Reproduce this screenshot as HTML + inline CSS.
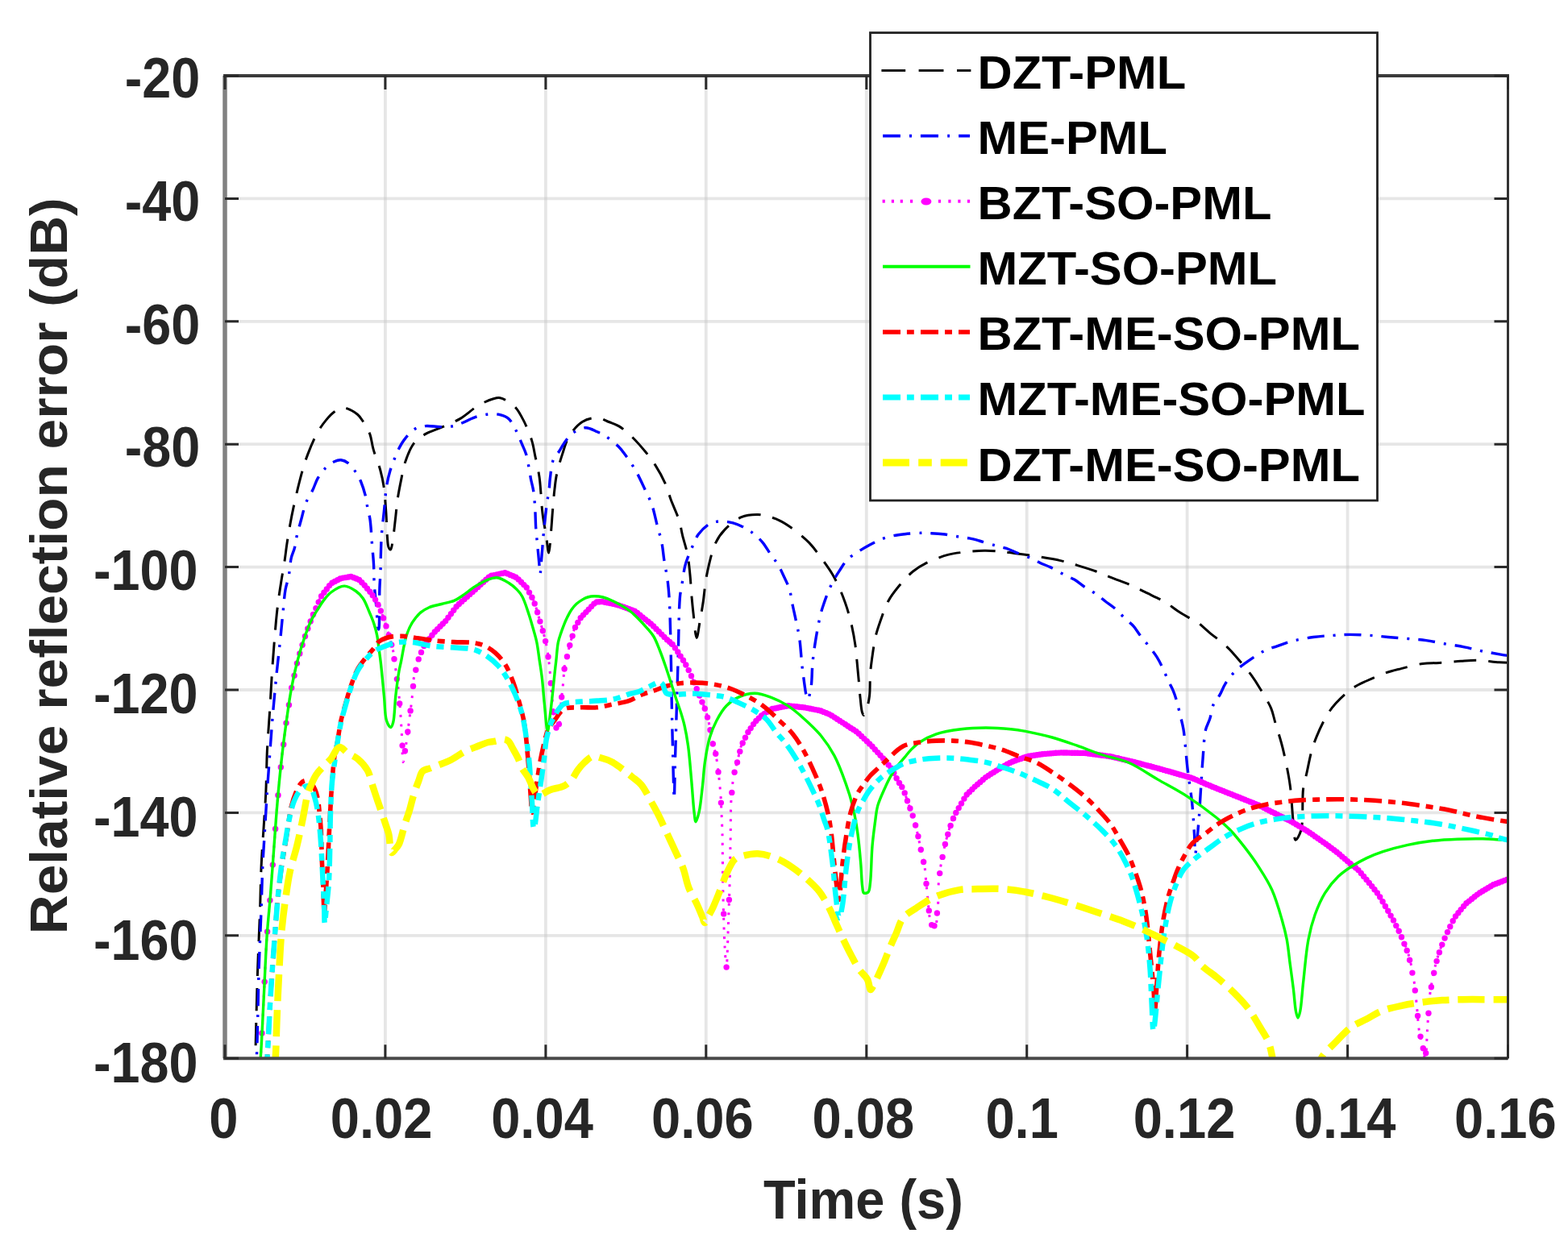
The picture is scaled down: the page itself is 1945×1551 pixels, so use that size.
<!DOCTYPE html>
<html><head><meta charset="utf-8"><title>Relative reflection error vs time</title>
<style>html,body{margin:0;padding:0;background:#fff;}body{width:1945px;height:1551px;overflow:hidden;}svg{display:block;}</style>
</head><body>
<svg width="1945" height="1551" viewBox="0 0 1945 1551">
<rect x="0" y="0" width="1945" height="1551" fill="#fff"/>
<path d="M477.9 94.0V1313.2M676.9 94.0V1313.2M875.8 94.0V1313.2M1074.8 94.0V1313.2M1273.7 94.0V1313.2M1472.6 94.0V1313.2M1671.6 94.0V1313.2" stroke="#c8c8c8" stroke-width="3.8" fill="none" stroke-opacity="0.45"/>
<path d="M279.0 246.4H1870.5M279.0 398.8H1870.5M279.0 551.2H1870.5M279.0 703.6H1870.5M279.0 856.0H1870.5M279.0 1008.4H1870.5M279.0 1160.8H1870.5" stroke="#c8c8c8" stroke-width="3.8" fill="none" stroke-opacity="0.45"/>
<defs><clipPath id="clip"><rect x="279.0" y="94.0" width="1591.5" height="1219.2"/></clipPath></defs>
<g clip-path="url(#clip)" fill="none" stroke-linejoin="round">
<path d="M314.5 1340.0C315.2 1331.0 316.0 1323.5 316.5 1313.0C317.3 1298.3 317.5 1278.2 318.0 1260.0C318.5 1240.6 319.1 1218.0 319.7 1200.0C320.2 1185.3 320.8 1173.0 321.3 1160.0C321.8 1147.7 322.3 1136.9 322.7 1124.0C323.2 1108.9 323.4 1091.2 324.1 1075.0C324.8 1059.2 326.0 1043.5 327.0 1028.0C327.9 1012.8 329.1 998.5 329.8 983.0C330.6 966.3 330.6 947.9 331.4 931.0C332.2 914.9 333.5 900.1 334.5 884.0C335.6 867.1 336.5 848.3 337.6 832.0C338.6 817.5 339.6 803.7 340.7 791.0C341.6 779.9 342.5 769.2 343.5 760.0C344.3 752.6 345.1 746.6 346.0 740.0C346.9 733.6 347.8 727.7 348.9 720.9C350.1 713.2 351.8 704.3 353.0 696.2C354.2 688.5 354.9 681.3 356.1 673.6C357.3 665.5 358.8 656.7 360.2 648.9C361.5 641.7 362.8 635.4 364.3 628.4C365.9 621.0 367.6 613.3 369.5 605.7C371.4 597.9 373.5 589.5 375.7 582.1C377.6 575.5 379.3 570.2 381.8 563.6C384.8 555.7 389.0 545.4 393.1 537.9C396.6 531.6 400.5 526.1 404.4 521.4C407.7 517.4 410.9 513.7 414.7 511.1C418.2 508.7 421.8 506.0 426.0 506.0C431.2 506.0 439.2 510.8 443.5 514.2C446.8 516.9 448.4 519.9 450.7 523.5C453.5 527.9 456.8 533.4 458.9 538.9C461.0 544.7 461.2 550.8 463.1 557.4C465.3 565.4 469.6 575.3 471.8 583.5C473.7 590.5 474.9 595.9 476.0 603.4C477.4 612.9 478.2 625.5 478.9 636.0C479.6 645.8 479.6 656.5 480.3 664.4C480.8 670.1 480.7 676.1 482.0 679.0C482.6 680.5 483.8 682.2 484.5 682.0C485.9 681.7 486.5 674.0 487.4 668.7C488.7 661.1 489.8 649.2 490.8 640.7C491.6 633.6 491.9 628.3 492.9 621.2C494.1 612.7 496.3 601.7 498.0 593.4C499.4 586.6 499.9 581.4 502.1 574.9C504.7 567.1 508.4 556.6 513.4 550.2C517.7 544.8 523.5 541.0 528.9 537.9C533.8 535.0 538.5 534.2 544.3 531.7C552.0 528.4 562.7 524.3 571.0 519.4C579.1 514.6 586.3 507.2 593.7 502.9C600.0 499.3 607.2 496.1 612.2 494.7C615.4 493.8 617.3 493.1 620.4 493.7C625.3 494.7 633.2 499.5 637.9 503.9C642.4 508.1 645.0 513.4 648.2 519.4C652.3 526.9 656.9 537.8 659.5 546.1C661.7 552.9 662.3 558.4 663.7 565.2C665.4 573.1 667.7 582.8 668.9 590.9C670.0 598.1 670.3 604.2 670.9 611.5C671.6 619.6 671.9 628.6 673.0 637.3C674.1 646.4 676.1 656.4 677.5 665.0C678.7 672.5 679.7 686.0 680.7 686.0C681.8 686.0 682.7 668.6 683.5 660.0C684.3 651.6 684.7 643.5 685.4 635.0C686.1 626.0 686.9 615.7 687.9 607.4C688.7 600.6 689.1 595.5 690.5 588.9C692.2 581.0 695.0 571.2 697.7 563.1C700.1 555.7 701.8 548.5 705.7 542.0C709.8 535.2 715.9 527.4 722.2 523.5C727.7 520.0 735.0 518.1 740.7 518.3C745.8 518.5 750.5 521.7 755.1 523.5C759.4 525.2 763.2 526.1 767.4 528.6C772.5 531.6 777.7 536.1 782.9 541.0C789.0 546.8 796.1 555.0 801.4 561.5C805.8 566.9 809.0 571.0 812.7 576.9C817.2 584.0 822.6 593.8 826.0 601.6C828.8 608.1 829.8 613.5 832.2 620.1C835.1 628.0 840.0 637.8 842.5 645.8C844.5 652.4 845.0 657.8 846.6 664.3C848.4 671.7 851.3 680.0 852.8 688.0C854.4 696.1 855.1 704.3 855.9 712.7C856.8 721.4 857.2 731.0 857.9 739.4C858.6 746.9 859.1 752.9 860.0 760.6C861.1 769.9 862.6 791.4 864.1 791.4C865.4 791.4 866.9 778.0 868.2 770.8C869.6 763.0 871.1 754.5 872.3 746.2C873.5 737.8 874.1 728.9 875.4 720.9C876.6 713.7 877.7 707.6 879.5 700.3C881.6 691.9 884.0 681.2 887.7 673.6C890.8 667.2 894.2 662.1 899.1 657.1C904.6 651.4 912.4 644.7 919.6 641.7C926.1 639.0 934.2 638.5 940.2 638.6C944.8 638.6 948.3 639.6 952.5 640.7C957.2 641.9 962.1 643.5 966.9 645.8C972.4 648.4 977.8 652.0 983.4 656.1C990.0 661.0 998.1 667.7 1003.9 673.6C1008.8 678.7 1012.0 683.2 1016.3 689.0C1021.5 696.0 1028.3 705.4 1032.7 712.7C1036.2 718.5 1038.7 724.2 1041.0 729.1C1042.8 733.1 1044.0 736.1 1045.5 740.0C1047.2 744.4 1049.0 749.3 1050.6 754.4C1052.4 760.2 1054.2 766.1 1055.8 773.0C1057.7 781.3 1059.8 792.4 1061.0 800.9C1062.0 808.0 1062.3 813.4 1063.0 820.5C1063.8 829.0 1064.8 840.1 1065.6 848.4C1066.2 855.2 1066.5 860.9 1067.2 866.9C1067.8 872.7 1068.3 880.5 1069.5 884.0C1070.1 885.7 1070.8 887.5 1071.5 887.5C1072.5 887.5 1074.0 883.0 1075.0 880.0C1076.5 875.7 1077.7 870.0 1078.5 863.8C1079.5 855.8 1078.9 844.3 1079.5 836.0C1080.0 829.2 1080.7 824.2 1081.6 817.4C1082.8 809.0 1084.2 797.8 1086.2 789.5C1087.8 782.6 1089.6 777.6 1091.9 771.0C1094.7 763.1 1098.1 752.7 1102.2 745.2C1105.7 738.8 1109.4 734.1 1114.0 728.5C1119.3 722.1 1126.2 714.2 1132.5 709.0C1137.9 704.6 1142.6 701.9 1148.9 698.7C1156.6 694.9 1167.5 690.6 1175.7 688.4C1182.3 686.6 1187.4 686.1 1194.2 685.3C1202.3 684.3 1212.6 683.4 1220.9 683.3C1228.2 683.2 1235.0 683.7 1241.5 684.3C1247.3 684.8 1251.7 685.6 1257.9 686.4C1266.2 687.5 1277.1 689.0 1286.7 690.5C1296.3 692.0 1307.0 693.7 1315.5 695.6C1322.4 697.2 1327.3 698.8 1334.0 700.8C1341.9 703.2 1352.0 706.2 1359.7 709.0C1366.1 711.3 1370.7 713.6 1377.2 716.2C1385.1 719.4 1396.1 723.1 1403.9 726.5C1410.1 729.2 1414.3 731.7 1420.4 734.7C1427.8 738.4 1437.8 742.7 1445.1 747.0C1451.3 750.7 1455.9 754.8 1461.5 758.4C1467.2 762.1 1474.6 766.4 1479.0 768.8C1481.6 770.2 1482.8 770.4 1485.2 772.0C1489.1 774.6 1494.2 779.8 1499.6 784.3C1506.3 789.9 1516.0 796.9 1522.2 802.8C1527.1 807.4 1530.1 811.1 1534.5 816.2C1540.1 822.7 1548.0 832.0 1553.0 838.8C1556.8 844.0 1559.0 847.6 1562.3 853.2C1566.7 860.5 1573.4 871.0 1576.7 878.9C1579.3 885.1 1579.9 890.0 1581.8 896.4C1584.1 904.1 1587.3 914.0 1589.5 922.0C1591.4 928.9 1592.6 934.2 1594.2 941.6C1596.2 951.2 1598.7 962.9 1600.3 975.0C1602.2 989.3 1603.0 1009.5 1604.4 1021.9C1605.3 1030.1 1605.2 1041.8 1607.1 1042.2C1608.7 1042.5 1612.2 1035.7 1613.9 1030.0C1617.1 1019.0 1614.8 991.5 1616.6 978.5C1617.7 970.4 1619.3 966.1 1620.9 959.1C1622.8 950.7 1624.8 939.5 1627.1 931.4C1629.0 924.8 1630.6 920.2 1633.2 913.9C1636.4 906.1 1641.2 895.5 1645.6 888.2C1649.2 882.2 1652.3 877.9 1656.9 872.8C1662.5 866.6 1670.6 859.0 1677.5 854.2C1683.3 850.1 1688.5 848.0 1694.9 845.0C1702.3 841.5 1711.9 837.4 1719.6 834.7C1726.1 832.4 1731.3 831.3 1738.1 829.6C1746.2 827.6 1756.5 824.6 1764.9 823.4C1772.1 822.4 1778.1 822.9 1785.4 822.4C1793.7 821.9 1803.9 820.8 1812.2 820.3C1819.5 819.8 1825.4 819.2 1832.7 819.3C1841.0 819.5 1851.8 821.2 1859.5 821.7C1865.4 822.1 1869.8 822.2 1875.0 822.4" stroke="#000" stroke-width="3" stroke-dasharray="28 15"/>
<path d="M316.5 1340.0C317.1 1331.0 317.8 1323.5 318.3 1313.0C319.0 1298.3 319.3 1278.2 319.8 1260.0C320.3 1240.6 320.6 1218.0 321.2 1200.0C321.7 1185.3 322.3 1173.0 322.8 1160.0C323.3 1147.7 323.7 1136.9 324.2 1124.0C324.7 1108.9 325.1 1091.2 325.8 1075.0C326.5 1059.2 327.7 1043.5 328.6 1028.0C329.5 1012.8 330.4 997.1 331.3 983.0C332.1 970.6 333.0 959.5 333.8 948.0C334.6 936.8 335.4 925.8 336.2 915.0C337.0 904.5 337.6 895.3 338.6 884.0C339.8 870.3 341.3 854.0 342.8 838.7C344.4 823.1 346.4 805.6 347.9 791.4C349.1 779.9 349.9 770.2 351.0 760.0C352.0 750.2 352.6 739.4 354.1 731.2C355.2 724.9 357.1 720.7 358.2 714.7C359.5 707.8 359.8 698.4 361.3 692.1C362.4 687.3 364.4 683.9 365.4 679.8C366.4 676.0 366.4 672.9 367.4 668.5C368.8 662.0 371.5 652.5 373.6 644.8C375.6 637.4 377.2 629.7 379.8 623.2C382.1 617.5 385.6 612.9 388.0 607.8C390.3 603.0 391.7 597.8 394.2 593.4C396.6 589.3 399.1 585.5 402.4 582.1C405.9 578.6 410.8 574.6 414.7 572.8C417.6 571.4 420.2 570.5 423.0 570.8C426.0 571.1 429.4 572.7 432.2 574.9C435.6 577.5 438.9 582.3 441.5 586.2C444.0 589.9 445.7 593.1 447.6 597.5C449.9 603.0 452.4 611.1 453.8 617.0C454.9 621.8 455.1 625.9 455.9 630.4C456.8 634.9 458.1 638.3 458.9 643.8C460.2 652.3 460.8 666.5 461.6 676.5C462.3 685.0 463.1 692.1 463.5 700.0C463.9 707.9 463.7 715.6 464.2 723.9C464.7 733.1 466.0 743.4 466.8 752.8C467.6 761.6 468.0 774.6 468.9 778.6C469.2 779.9 469.5 781.0 469.8 781.0C471.0 780.8 470.4 743.3 470.9 730.1C471.2 721.7 471.7 716.7 472.0 709.5C472.3 701.6 472.2 692.8 472.5 684.7C472.7 677.0 472.9 670.0 473.5 662.1C474.2 653.3 475.4 644.0 476.4 634.5C477.4 624.5 478.1 612.6 479.5 603.7C480.6 596.7 481.9 590.9 483.6 585.2C485.1 580.0 487.0 575.4 488.8 570.8C490.5 566.5 491.9 562.5 493.9 558.4C496.0 554.2 498.0 550.2 501.1 546.1C504.8 541.2 510.5 534.5 515.5 531.7C519.5 529.5 523.2 529.0 527.8 528.6C533.3 528.1 540.4 529.6 546.4 529.6C552.0 529.6 557.9 529.6 562.8 528.6C567.0 527.7 570.2 526.1 574.1 524.5C578.4 522.7 582.7 520.0 587.5 518.3C592.6 516.5 598.6 514.9 603.9 514.2C608.8 513.6 613.8 513.3 618.3 514.2C622.7 515.1 627.1 516.4 630.7 519.4C635.0 523.0 638.2 530.4 641.0 535.8C643.5 540.7 645.1 545.5 647.1 550.2C648.9 554.6 650.9 558.2 652.4 563.0C654.2 568.8 655.4 576.9 656.5 582.7C657.4 587.3 657.8 590.8 658.6 595.0C659.5 599.4 660.8 603.4 661.6 608.5C662.6 614.8 663.2 622.7 663.7 630.1C664.2 638.0 664.2 646.7 664.7 654.8C665.2 662.5 666.1 669.9 666.8 677.5C667.5 685.1 668.3 693.9 668.9 700.2C669.3 704.8 669.6 712.0 670.0 712.0C670.6 712.0 671.3 697.9 672.0 690.0C672.8 680.8 673.5 670.2 674.5 660.0C675.5 649.3 676.8 636.7 678.1 627.0C679.1 619.3 680.5 612.4 681.2 606.4C681.8 601.8 681.7 598.8 682.3 594.0C683.2 587.4 683.9 576.4 686.4 570.3C688.2 565.9 691.4 563.4 693.6 560.0C695.7 556.7 697.2 553.6 699.6 550.2C702.4 546.2 705.5 541.1 709.8 537.9C714.3 534.5 721.0 530.9 726.3 530.7C731.2 530.5 736.4 533.9 740.7 535.8C744.5 537.4 747.3 538.6 751.0 541.0C756.0 544.2 763.0 549.9 767.4 554.3C770.9 557.8 772.8 560.6 775.7 564.6C779.5 569.8 784.2 576.5 788.0 583.1C792.1 590.1 795.8 598.3 799.3 605.7C802.6 612.7 806.1 619.1 808.6 626.3C811.2 633.8 812.7 642.0 814.7 649.9C816.8 657.8 819.3 665.7 820.9 673.6C822.4 681.2 822.8 688.6 824.0 696.2C825.2 704.0 827.1 712.0 828.1 719.9C829.1 727.8 829.6 733.9 830.2 743.5C831.1 758.3 831.5 780.2 832.0 800.0C832.5 822.1 832.8 847.6 833.2 870.0C833.6 890.8 834.0 909.9 834.5 930.0C835.0 950.3 835.8 991.0 836.3 991.0C836.7 991.0 837.0 961.6 837.4 945.7C837.9 928.1 838.5 908.1 839.0 890.0C839.5 872.9 840.1 855.6 840.5 840.0C840.9 826.4 841.1 816.0 841.5 801.7C842.0 783.6 842.1 754.7 843.5 740.0C844.3 731.8 845.6 727.2 846.6 720.9C847.6 714.7 848.3 707.9 849.7 702.4C850.8 697.8 852.2 694.3 853.8 690.1C855.6 685.5 857.9 680.3 860.0 675.7C862.0 671.4 863.2 667.3 866.1 663.3C869.6 658.6 875.5 652.6 880.5 649.9C884.5 647.7 888.5 647.2 892.9 646.9C898.0 646.6 903.9 647.4 909.3 648.9C914.9 650.4 921.1 653.4 925.8 656.1C929.8 658.3 932.8 660.5 936.1 663.3C939.7 666.3 943.2 669.6 946.4 673.6C950.0 678.1 953.3 684.3 956.6 689.0C959.5 693.1 962.3 696.1 964.9 700.3C967.9 705.2 970.6 711.5 973.1 716.8C975.4 721.7 977.7 726.0 979.3 731.2C981.1 737.0 981.7 743.6 983.0 750.0C984.4 756.8 986.1 763.9 987.5 770.8C988.9 777.7 990.4 783.3 991.6 791.4C993.3 802.7 993.9 819.4 995.7 832.5C997.4 844.7 999.8 867.4 1001.9 867.5C1003.3 867.6 1005.0 858.9 1006.0 853.1C1007.4 844.8 1007.0 832.6 1008.0 822.3C1009.0 812.0 1010.5 801.7 1012.2 791.4C1013.9 781.1 1016.2 768.6 1018.3 760.6C1019.7 755.3 1020.8 752.2 1022.4 747.6C1024.2 742.4 1026.4 736.2 1028.6 731.2C1030.6 726.7 1032.7 722.7 1034.8 718.8C1036.8 715.2 1038.6 712.2 1041.0 708.6C1043.9 704.2 1047.1 698.3 1051.2 694.2C1055.3 690.1 1060.8 687.0 1065.6 683.9C1070.1 681.0 1074.4 678.6 1079.0 676.1C1083.7 673.6 1088.5 670.8 1093.4 668.9C1098.1 667.1 1103.0 665.8 1107.8 664.8C1112.6 663.8 1117.0 663.3 1122.2 662.7C1128.4 662.0 1136.8 661.4 1142.8 661.3C1147.4 661.2 1150.8 661.5 1155.1 661.7C1159.7 661.9 1164.4 662.1 1169.5 662.7C1175.3 663.4 1182.2 664.9 1188.0 665.8C1193.1 666.6 1197.8 667.0 1202.4 667.9C1206.7 668.7 1210.1 669.7 1214.7 671.0C1220.7 672.6 1229.3 675.5 1235.3 677.1C1239.9 678.4 1243.5 678.9 1247.6 680.2C1251.8 681.6 1255.4 683.5 1260.0 685.3C1265.5 687.5 1273.0 690.1 1278.5 692.5C1283.1 694.5 1286.7 696.8 1290.8 698.7C1294.9 700.6 1298.7 701.7 1303.2 703.9C1308.8 706.6 1316.2 711.3 1321.7 714.1C1325.9 716.2 1329.3 717.2 1333.0 719.3C1336.9 721.6 1340.1 724.7 1344.3 727.5C1349.2 730.8 1355.9 734.4 1360.7 737.8C1364.6 740.6 1367.4 743.2 1371.0 746.0C1374.9 749.0 1379.3 751.8 1383.4 755.3C1387.9 759.2 1392.6 764.7 1396.7 768.6C1400.0 771.7 1403.2 773.7 1406.0 776.9C1409.0 780.2 1411.1 784.2 1414.2 788.2C1417.9 793.0 1422.9 798.8 1426.6 803.6C1429.7 807.6 1432.4 811.1 1434.8 814.9C1437.1 818.6 1438.9 821.9 1441.0 826.2C1443.7 831.6 1446.6 839.2 1449.2 844.7C1451.3 849.3 1453.6 852.9 1455.3 857.1C1457.0 861.2 1458.1 864.7 1459.5 869.4C1461.2 875.4 1463.1 883.7 1464.6 890.0C1465.9 895.4 1466.9 898.5 1468.0 905.0C1469.9 916.6 1471.3 938.6 1473.1 954.2C1474.8 968.4 1477.1 981.3 1478.5 994.8C1479.9 1008.2 1480.8 1023.2 1481.5 1035.0C1482.1 1044.3 1481.9 1059.8 1482.6 1059.8C1483.5 1059.8 1485.6 1034.8 1486.7 1021.9C1487.9 1008.6 1488.5 994.8 1489.4 981.2C1490.3 967.7 1491.0 953.6 1492.1 940.6C1493.1 928.5 1493.4 914.5 1495.5 905.7C1496.8 900.1 1499.0 897.2 1500.6 892.3C1502.5 886.5 1503.3 878.1 1505.7 872.8C1507.6 868.6 1510.6 866.3 1512.9 862.5C1515.5 858.2 1517.1 852.8 1520.1 848.1C1523.5 842.8 1527.6 837.4 1532.5 832.6C1537.8 827.4 1544.7 822.6 1551.0 818.3C1557.1 814.1 1563.6 809.7 1569.5 806.9C1574.5 804.5 1578.8 803.6 1583.9 801.8C1589.7 799.8 1595.6 797.4 1602.4 795.6C1610.4 793.5 1620.3 791.7 1629.1 790.5C1637.5 789.3 1645.9 788.9 1653.8 788.4C1661.0 787.9 1667.2 787.4 1674.4 787.4C1682.3 787.4 1691.1 787.9 1699.1 788.4C1706.8 788.9 1714.0 789.8 1721.7 790.5C1729.7 791.2 1738.4 791.8 1746.4 792.5C1754.1 793.2 1761.5 793.6 1769.0 794.6C1776.6 795.6 1783.9 797.4 1791.6 798.7C1799.6 800.1 1808.3 801.2 1816.3 802.8C1824.0 804.3 1831.3 806.4 1838.9 808.0C1846.4 809.5 1854.9 811.0 1861.5 812.1C1866.6 812.9 1870.5 813.4 1875.0 814.0" stroke="#0000ff" stroke-width="3.4" stroke-dasharray="21 11 3 11"/>
<path d="M321.5 1330.0C322.1 1324.3 322.6 1320.7 323.2 1313.0C324.5 1296.6 326.0 1261.3 327.3 1235.7C328.6 1210.3 329.6 1182.6 331.2 1160.0C332.5 1141.7 334.1 1127.3 335.5 1110.2C337.0 1091.9 338.3 1072.4 339.7 1053.5C341.1 1034.6 342.4 1015.1 344.0 996.7C345.5 979.2 347.0 962.6 348.9 945.7C350.7 929.1 352.9 912.0 355.1 896.3C357.1 882.0 358.8 868.5 361.3 855.2C363.7 842.5 366.3 830.0 369.5 818.1C372.5 806.7 376.5 794.7 379.8 785.2C382.3 777.9 384.2 772.8 387.0 766.0C390.3 758.0 393.9 747.4 398.3 740.0C402.0 733.8 406.0 727.8 410.6 724.0C414.4 720.8 418.8 718.9 423.0 717.5C427.0 716.2 431.5 715.1 435.3 715.5C438.8 715.8 442.2 717.2 445.0 719.0C447.7 720.7 449.6 723.4 452.0 726.0C454.8 729.0 458.0 732.7 460.6 736.3C463.2 739.9 465.6 743.5 467.8 747.6C470.1 752.0 472.0 756.9 474.0 762.1C476.2 767.9 478.1 773.9 480.2 780.6C482.6 788.5 485.6 797.9 487.4 806.4C489.1 814.5 489.6 821.8 490.8 830.5C492.2 840.6 493.8 851.8 495.0 863.4C496.3 876.3 497.2 890.8 498.0 904.5C498.9 918.2 498.9 945.6 500.1 945.7C501.0 945.7 502.4 932.5 503.5 925.0C504.8 916.2 506.0 906.2 507.3 896.3C508.7 885.7 510.3 873.3 511.4 863.4C512.3 855.2 512.1 848.4 513.4 840.8C514.8 832.7 517.2 823.1 519.6 816.1C521.5 810.6 523.0 806.5 525.8 801.7C529.0 796.2 533.6 790.4 538.1 785.2C542.5 780.1 547.9 776.1 552.5 770.8C557.5 765.0 561.3 757.8 566.9 751.7C572.9 745.2 580.6 739.4 587.5 733.2C594.3 727.0 600.8 718.4 608.0 714.7C614.0 711.6 620.9 710.1 626.6 710.6C631.8 711.1 636.6 713.8 641.0 716.8C645.6 719.9 649.8 724.4 653.3 729.1C656.9 733.9 659.7 739.8 662.1 745.5C664.5 751.3 665.8 757.1 667.7 763.5C669.9 770.7 672.6 780.0 674.4 786.7C675.8 791.8 676.7 795.1 677.7 800.1C679.0 806.5 680.1 814.2 681.0 821.9C682.1 830.7 682.7 840.6 683.5 850.0C684.3 859.3 685.1 869.2 686.0 878.0C686.8 885.8 687.1 895.3 688.5 900.0C689.2 902.3 690.2 905.0 691.0 905.0C692.1 904.9 693.6 899.6 694.4 895.7C695.7 889.4 695.4 878.8 696.1 870.6C696.8 862.6 697.9 854.6 698.6 847.1C699.3 840.1 699.3 833.0 700.3 827.0C701.1 822.0 702.6 818.2 703.7 813.5C704.9 808.5 705.9 803.5 707.4 798.1C709.0 792.1 710.8 784.5 713.1 779.0C715.0 774.4 717.3 770.5 719.8 767.1C722.0 764.1 724.3 762.3 727.0 759.4C730.5 755.7 735.0 748.8 738.9 747.0C741.6 745.8 743.7 746.3 746.9 746.5C751.8 746.8 759.0 748.5 765.4 750.3C772.6 752.3 780.9 754.5 788.0 758.5C795.4 762.7 802.1 769.2 808.6 775.0C815.1 780.8 822.2 789.0 827.1 793.5C830.1 796.3 832.5 797.4 834.8 800.0C837.3 802.8 839.0 806.2 841.3 809.7C843.9 813.7 847.1 818.2 849.6 822.6C852.0 826.8 853.8 830.5 856.1 835.5C859.2 842.2 863.5 853.0 866.1 859.3C867.8 863.4 868.9 866.1 870.3 869.6C871.8 873.2 873.4 876.8 874.8 880.6C876.2 884.7 877.3 888.2 878.6 893.5C880.6 901.7 882.9 917.5 884.7 925.1C885.8 929.5 886.8 931.3 887.7 935.4C888.9 941.0 889.9 948.4 890.8 955.9C892.0 965.1 893.2 977.5 893.9 986.8C894.5 994.4 894.6 1000.1 894.9 1007.4C895.3 1015.7 895.7 1022.9 896.0 1034.1C896.5 1053.3 896.4 1087.8 897.0 1112.3C897.5 1134.1 898.1 1157.7 899.0 1174.0C899.6 1184.7 900.5 1200.7 901.1 1200.7C901.9 1200.7 902.6 1170.2 903.2 1153.4C903.9 1134.2 904.7 1111.5 905.2 1091.7C905.7 1073.2 905.8 1055.9 906.2 1038.2C906.5 1020.9 906.2 1001.7 907.3 986.8C908.2 975.2 909.8 963.4 911.4 955.9C912.3 951.5 913.4 949.7 914.5 945.7C916.1 940.0 917.3 931.5 919.6 925.1C921.8 919.2 924.9 913.6 927.8 908.6C930.4 904.1 933.2 899.9 936.1 896.3C938.7 893.1 941.1 890.7 944.3 888.1C947.9 885.2 951.7 881.8 956.6 879.8C962.4 877.4 970.3 876.0 977.2 875.7C984.0 875.4 991.0 876.8 997.8 877.8C1004.7 878.9 1012.5 880.2 1018.3 882.0C1022.8 883.4 1025.9 884.6 1030.0 886.8C1035.2 889.5 1041.2 894.1 1046.8 897.7C1052.4 901.3 1058.1 904.3 1063.5 908.6C1069.3 913.2 1074.8 918.9 1080.3 924.5C1086.0 930.3 1092.5 937.5 1097.1 942.9C1100.6 947.0 1103.3 949.9 1106.0 954.0C1108.9 958.5 1111.2 964.5 1113.8 968.9C1116.0 972.7 1118.6 975.2 1120.5 979.0C1122.7 983.4 1123.7 988.6 1125.6 994.1C1127.9 1000.7 1131.3 1008.5 1133.5 1015.7C1135.6 1022.6 1137.0 1029.4 1138.6 1036.3C1140.1 1043.2 1141.4 1050.2 1142.8 1056.9C1144.1 1063.2 1145.9 1069.0 1146.9 1075.4C1148.0 1082.0 1148.2 1089.1 1148.9 1095.9C1149.6 1102.8 1150.3 1109.6 1151.0 1116.5C1151.7 1123.4 1152.0 1131.1 1153.0 1137.1C1153.8 1141.8 1154.2 1148.3 1156.1 1149.4C1157.1 1150.0 1158.9 1149.6 1160.0 1148.5C1162.5 1145.8 1162.6 1134.7 1163.3 1126.8C1164.2 1117.4 1163.6 1104.9 1164.3 1095.9C1164.8 1088.9 1165.5 1083.4 1166.4 1077.4C1167.3 1071.8 1168.4 1066.3 1169.5 1061.0C1170.5 1056.0 1171.4 1051.7 1172.6 1046.6C1174.0 1040.8 1175.8 1034.0 1177.7 1028.1C1179.6 1022.4 1181.5 1016.6 1183.9 1011.6C1186.0 1007.1 1188.7 1003.4 1191.1 999.3C1193.5 995.2 1195.4 990.7 1198.3 986.9C1201.2 983.1 1204.8 980.2 1208.6 976.7C1212.9 972.7 1217.9 968.1 1223.0 964.3C1228.2 960.5 1234.1 957.2 1239.4 954.0C1244.3 951.1 1248.4 948.2 1253.8 945.8C1259.9 943.0 1267.5 940.3 1274.4 938.6C1281.2 936.9 1288.0 936.3 1294.9 935.5C1301.7 934.7 1307.9 934.1 1315.5 933.9C1324.8 933.6 1336.1 933.7 1346.4 934.5C1356.7 935.3 1367.0 936.7 1377.2 938.6C1387.5 940.5 1397.7 943.2 1408.0 945.8C1418.3 948.4 1427.9 951.0 1438.9 954.0C1451.4 957.5 1467.9 961.5 1479.0 965.5C1487.1 968.4 1492.7 971.5 1499.6 974.4C1506.4 977.2 1513.3 979.9 1520.1 982.6C1527.0 985.3 1533.8 988.1 1540.7 990.8C1547.6 993.6 1554.5 996.0 1561.3 999.1C1568.2 1002.2 1575.0 1006.0 1581.8 1009.4C1588.7 1012.8 1595.6 1015.9 1602.4 1019.6C1609.3 1023.4 1616.2 1027.6 1623.0 1032.0C1629.9 1036.5 1637.1 1041.7 1643.5 1046.4C1649.3 1050.6 1654.8 1054.5 1660.0 1058.7C1665.0 1062.7 1670.0 1067.4 1674.4 1071.1C1678.1 1074.2 1681.3 1076.0 1684.7 1079.3C1688.8 1083.3 1692.9 1088.7 1697.0 1093.7C1701.4 1099.0 1706.1 1104.3 1710.2 1110.3C1714.5 1116.5 1718.5 1124.6 1721.9 1130.4C1724.5 1134.8 1726.3 1137.8 1728.6 1142.1C1731.3 1147.2 1734.2 1152.7 1737.0 1158.9C1740.4 1166.4 1744.4 1175.1 1747.1 1184.1C1750.1 1194.0 1752.1 1205.6 1753.8 1215.9C1755.4 1225.6 1756.0 1234.4 1757.1 1244.4C1758.3 1255.5 1758.8 1269.3 1760.5 1279.6C1761.8 1287.8 1764.2 1294.6 1765.5 1301.4C1766.6 1307.3 1767.3 1318.0 1768.0 1318.0C1769.1 1318.0 1769.6 1291.7 1770.5 1277.9C1771.5 1263.3 1772.0 1246.8 1773.9 1232.7C1775.6 1220.2 1778.1 1207.8 1780.6 1197.5C1782.6 1189.3 1784.9 1182.4 1787.3 1175.7C1789.4 1169.9 1791.5 1165.4 1794.0 1159.7C1796.9 1153.2 1800.1 1145.2 1804.1 1138.8C1808.0 1132.7 1812.5 1127.0 1817.5 1122.0C1822.5 1117.0 1828.3 1112.6 1834.2 1108.6C1840.1 1104.5 1846.7 1100.6 1852.7 1097.7C1857.9 1095.2 1863.7 1093.2 1867.8 1091.9C1870.6 1091.0 1872.6 1090.6 1875.0 1090.0" stroke="#ff00ff" stroke-width="3" stroke-dasharray="3 8.6"/>
<g fill="#ff00ff"><circle cx="321.5" cy="1330.0" r="3.7"/><circle cx="324.9" cy="1281.9" r="3.7"/><circle cx="328.2" cy="1218.2" r="3.7"/><circle cx="331.6" cy="1155.9" r="3.7"/><circle cx="334.9" cy="1117.1" r="3.7"/><circle cx="338.3" cy="1073.1" r="3.7"/><circle cx="341.6" cy="1028.4" r="3.7"/><circle cx="345.0" cy="986.8" r="3.7"/><circle cx="348.3" cy="951.9" r="3.7"/><circle cx="351.7" cy="923.8" r="3.7"/><circle cx="355.0" cy="897.1" r="3.7"/><circle cx="358.4" cy="874.8" r="3.7"/><circle cx="361.7" cy="853.4" r="3.7"/><circle cx="365.1" cy="838.2" r="3.7"/><circle cx="368.4" cy="823.1" r="3.7"/><circle cx="371.8" cy="810.9" r="3.7"/><circle cx="375.1" cy="800.2" r="3.7"/><circle cx="378.5" cy="789.5" r="3.7"/><circle cx="381.8" cy="779.9" r="3.7"/><circle cx="385.2" cy="770.9" r="3.7"/><circle cx="388.5" cy="762.5" r="3.7"/><circle cx="391.9" cy="754.8" r="3.7"/><circle cx="395.2" cy="747.1" r="3.7"/><circle cx="398.6" cy="739.7" r="3.7"/><circle cx="401.9" cy="735.3" r="3.7"/><circle cx="405.3" cy="731.0" r="3.7"/><circle cx="408.6" cy="726.6" r="3.7"/><circle cx="412.0" cy="723.3" r="3.7"/><circle cx="415.3" cy="721.5" r="3.7"/><circle cx="418.7" cy="719.8" r="3.7"/><circle cx="422.0" cy="718.0" r="3.7"/><circle cx="425.4" cy="717.1" r="3.7"/><circle cx="428.7" cy="716.6" r="3.7"/><circle cx="432.1" cy="716.0" r="3.7"/><circle cx="435.4" cy="715.5" r="3.7"/><circle cx="438.8" cy="716.7" r="3.7"/><circle cx="442.1" cy="718.0" r="3.7"/><circle cx="445.5" cy="719.5" r="3.7"/><circle cx="448.8" cy="722.8" r="3.7"/><circle cx="452.2" cy="726.2" r="3.7"/><circle cx="455.5" cy="730.2" r="3.7"/><circle cx="458.9" cy="734.2" r="3.7"/><circle cx="462.2" cy="738.8" r="3.7"/><circle cx="465.6" cy="744.1" r="3.7"/><circle cx="468.9" cy="750.2" r="3.7"/><circle cx="472.3" cy="758.0" r="3.7"/><circle cx="475.6" cy="766.9" r="3.7"/><circle cx="479.0" cy="776.9" r="3.7"/><circle cx="482.3" cy="788.1" r="3.7"/><circle cx="485.7" cy="800.1" r="3.7"/><circle cx="489.0" cy="817.7" r="3.7"/><circle cx="492.4" cy="842.6" r="3.7"/><circle cx="495.7" cy="873.0" r="3.7"/><circle cx="499.1" cy="925.1" r="3.7"/><circle cx="502.4" cy="931.7" r="3.7"/><circle cx="505.8" cy="908.0" r="3.7"/><circle cx="509.1" cy="881.9" r="3.7"/><circle cx="512.5" cy="851.5" r="3.7"/><circle cx="515.8" cy="831.2" r="3.7"/><circle cx="519.2" cy="817.9" r="3.7"/><circle cx="522.5" cy="809.4" r="3.7"/><circle cx="525.9" cy="801.6" r="3.7"/><circle cx="529.2" cy="797.1" r="3.7"/><circle cx="532.6" cy="792.6" r="3.7"/><circle cx="535.9" cy="788.2" r="3.7"/><circle cx="539.3" cy="784.0" r="3.7"/><circle cx="542.6" cy="780.7" r="3.7"/><circle cx="546.0" cy="777.3" r="3.7"/><circle cx="549.3" cy="774.0" r="3.7"/><circle cx="552.7" cy="770.6" r="3.7"/><circle cx="556.0" cy="766.2" r="3.7"/><circle cx="559.4" cy="761.7" r="3.7"/><circle cx="562.7" cy="757.3" r="3.7"/><circle cx="566.1" cy="752.8" r="3.7"/><circle cx="569.4" cy="749.5" r="3.7"/><circle cx="572.8" cy="746.4" r="3.7"/><circle cx="576.1" cy="743.4" r="3.7"/><circle cx="579.5" cy="740.4" r="3.7"/><circle cx="582.8" cy="737.4" r="3.7"/><circle cx="586.2" cy="734.4" r="3.7"/><circle cx="589.5" cy="731.4" r="3.7"/><circle cx="592.9" cy="728.4" r="3.7"/><circle cx="596.2" cy="725.3" r="3.7"/><circle cx="599.6" cy="722.3" r="3.7"/><circle cx="602.9" cy="719.3" r="3.7"/><circle cx="606.3" cy="716.3" r="3.7"/><circle cx="609.6" cy="714.3" r="3.7"/><circle cx="613.0" cy="713.6" r="3.7"/><circle cx="616.3" cy="712.9" r="3.7"/><circle cx="619.7" cy="712.1" r="3.7"/><circle cx="623.0" cy="711.4" r="3.7"/><circle cx="626.4" cy="710.7" r="3.7"/><circle cx="629.7" cy="711.9" r="3.7"/><circle cx="633.1" cy="713.4" r="3.7"/><circle cx="636.4" cy="714.8" r="3.7"/><circle cx="639.8" cy="716.3" r="3.7"/><circle cx="643.1" cy="718.9" r="3.7"/><circle cx="646.5" cy="722.3" r="3.7"/><circle cx="649.8" cy="725.6" r="3.7"/><circle cx="653.2" cy="729.0" r="3.7"/><circle cx="656.5" cy="735.1" r="3.7"/><circle cx="659.9" cy="741.3" r="3.7"/><circle cx="663.2" cy="749.0" r="3.7"/><circle cx="666.6" cy="759.8" r="3.7"/><circle cx="669.9" cy="771.1" r="3.7"/><circle cx="673.3" cy="782.7" r="3.7"/><circle cx="676.6" cy="795.6" r="3.7"/><circle cx="680.0" cy="815.0" r="3.7"/><circle cx="683.3" cy="847.8" r="3.7"/><circle cx="686.7" cy="883.7" r="3.7"/><circle cx="690.0" cy="903.0" r="3.7"/><circle cx="693.4" cy="898.6" r="3.7"/><circle cx="696.7" cy="865.0" r="3.7"/><circle cx="700.1" cy="830.0" r="3.7"/><circle cx="703.4" cy="814.7" r="3.7"/><circle cx="706.8" cy="800.8" r="3.7"/><circle cx="710.1" cy="789.1" r="3.7"/><circle cx="713.5" cy="778.4" r="3.7"/><circle cx="716.8" cy="772.4" r="3.7"/><circle cx="720.2" cy="766.7" r="3.7"/><circle cx="723.5" cy="763.1" r="3.7"/><circle cx="726.9" cy="759.6" r="3.7"/><circle cx="730.2" cy="756.1" r="3.7"/><circle cx="733.6" cy="752.6" r="3.7"/><circle cx="736.9" cy="749.1" r="3.7"/><circle cx="740.3" cy="746.9" r="3.7"/><circle cx="743.6" cy="746.7" r="3.7"/><circle cx="747.0" cy="746.5" r="3.7"/><circle cx="750.3" cy="747.2" r="3.7"/><circle cx="753.7" cy="747.9" r="3.7"/><circle cx="757.0" cy="748.6" r="3.7"/><circle cx="760.4" cy="749.3" r="3.7"/><circle cx="763.7" cy="750.0" r="3.7"/><circle cx="767.1" cy="750.9" r="3.7"/><circle cx="770.4" cy="752.1" r="3.7"/><circle cx="773.8" cy="753.3" r="3.7"/><circle cx="777.1" cy="754.5" r="3.7"/><circle cx="780.5" cy="755.8" r="3.7"/><circle cx="783.8" cy="757.0" r="3.7"/><circle cx="787.2" cy="758.2" r="3.7"/><circle cx="790.5" cy="760.5" r="3.7"/><circle cx="793.9" cy="763.2" r="3.7"/><circle cx="797.2" cy="765.9" r="3.7"/><circle cx="800.6" cy="768.6" r="3.7"/><circle cx="803.9" cy="771.2" r="3.7"/><circle cx="807.3" cy="773.9" r="3.7"/><circle cx="810.6" cy="777.0" r="3.7"/><circle cx="814.0" cy="780.4" r="3.7"/><circle cx="817.3" cy="783.7" r="3.7"/><circle cx="820.7" cy="787.1" r="3.7"/><circle cx="824.0" cy="790.4" r="3.7"/><circle cx="827.4" cy="793.7" r="3.7"/><circle cx="830.7" cy="796.5" r="3.7"/><circle cx="834.1" cy="799.4" r="3.7"/><circle cx="837.4" cy="803.9" r="3.7"/><circle cx="840.8" cy="808.9" r="3.7"/><circle cx="844.1" cy="814.1" r="3.7"/><circle cx="847.5" cy="819.3" r="3.7"/><circle cx="850.8" cy="825.0" r="3.7"/><circle cx="854.2" cy="831.6" r="3.7"/><circle cx="857.5" cy="838.8" r="3.7"/><circle cx="860.9" cy="846.8" r="3.7"/><circle cx="864.2" cy="854.8" r="3.7"/><circle cx="867.6" cy="862.9" r="3.7"/><circle cx="870.9" cy="871.1" r="3.7"/><circle cx="874.3" cy="879.3" r="3.7"/><circle cx="877.6" cy="890.1" r="3.7"/><circle cx="881.0" cy="905.7" r="3.7"/><circle cx="884.3" cy="923.0" r="3.7"/><circle cx="887.7" cy="935.2" r="3.7"/><circle cx="891.0" cy="957.9" r="3.7"/><circle cx="894.4" cy="996.1" r="3.7"/><circle cx="897.7" cy="1133.9" r="3.7"/><circle cx="901.1" cy="1200.1" r="3.7"/><circle cx="904.4" cy="1116.4" r="3.7"/><circle cx="907.8" cy="983.4" r="3.7"/><circle cx="911.1" cy="958.2" r="3.7"/><circle cx="914.5" cy="945.9" r="3.7"/><circle cx="917.8" cy="932.4" r="3.7"/><circle cx="921.2" cy="922.0" r="3.7"/><circle cx="924.5" cy="915.2" r="3.7"/><circle cx="927.9" cy="908.5" r="3.7"/><circle cx="931.2" cy="903.6" r="3.7"/><circle cx="934.6" cy="898.6" r="3.7"/><circle cx="937.9" cy="894.5" r="3.7"/><circle cx="941.3" cy="891.1" r="3.7"/><circle cx="944.6" cy="887.9" r="3.7"/><circle cx="948.0" cy="885.6" r="3.7"/><circle cx="951.3" cy="883.4" r="3.7"/><circle cx="954.7" cy="881.1" r="3.7"/><circle cx="958.0" cy="879.5" r="3.7"/><circle cx="961.4" cy="878.9" r="3.7"/><circle cx="964.7" cy="878.2" r="3.7"/><circle cx="968.1" cy="877.5" r="3.7"/><circle cx="971.4" cy="876.9" r="3.7"/><circle cx="974.8" cy="876.2" r="3.7"/><circle cx="978.1" cy="875.8" r="3.7"/><circle cx="981.5" cy="876.1" r="3.7"/><circle cx="984.8" cy="876.5" r="3.7"/><circle cx="988.2" cy="876.8" r="3.7"/><circle cx="991.5" cy="877.2" r="3.7"/><circle cx="994.9" cy="877.5" r="3.7"/><circle cx="998.2" cy="877.9" r="3.7"/><circle cx="1001.6" cy="878.6" r="3.7"/><circle cx="1004.9" cy="879.3" r="3.7"/><circle cx="1008.3" cy="879.9" r="3.7"/><circle cx="1011.6" cy="880.6" r="3.7"/><circle cx="1015.0" cy="881.3" r="3.7"/><circle cx="1018.3" cy="882.0" r="3.7"/><circle cx="1021.7" cy="883.4" r="3.7"/><circle cx="1025.0" cy="884.7" r="3.7"/><circle cx="1028.4" cy="886.1" r="3.7"/><circle cx="1031.7" cy="887.9" r="3.7"/><circle cx="1035.1" cy="890.1" r="3.7"/><circle cx="1038.4" cy="892.3" r="3.7"/><circle cx="1041.8" cy="894.4" r="3.7"/><circle cx="1045.1" cy="896.6" r="3.7"/><circle cx="1048.5" cy="898.8" r="3.7"/><circle cx="1051.8" cy="901.0" r="3.7"/><circle cx="1055.2" cy="903.2" r="3.7"/><circle cx="1058.5" cy="905.3" r="3.7"/><circle cx="1061.9" cy="907.5" r="3.7"/><circle cx="1065.2" cy="910.2" r="3.7"/><circle cx="1068.6" cy="913.4" r="3.7"/><circle cx="1071.9" cy="916.6" r="3.7"/><circle cx="1075.3" cy="919.7" r="3.7"/><circle cx="1078.6" cy="922.9" r="3.7"/><circle cx="1082.0" cy="926.3" r="3.7"/><circle cx="1085.3" cy="930.0" r="3.7"/><circle cx="1088.7" cy="933.6" r="3.7"/><circle cx="1092.0" cy="937.3" r="3.7"/><circle cx="1095.4" cy="941.0" r="3.7"/><circle cx="1098.7" cy="944.9" r="3.7"/><circle cx="1102.1" cy="949.1" r="3.7"/><circle cx="1105.4" cy="953.3" r="3.7"/><circle cx="1108.8" cy="959.3" r="3.7"/><circle cx="1112.1" cy="965.7" r="3.7"/><circle cx="1115.5" cy="971.4" r="3.7"/><circle cx="1118.8" cy="976.4" r="3.7"/><circle cx="1122.2" cy="983.9" r="3.7"/><circle cx="1125.5" cy="993.8" r="3.7"/><circle cx="1128.9" cy="1003.0" r="3.7"/><circle cx="1132.2" cy="1012.1" r="3.7"/><circle cx="1135.6" cy="1024.0" r="3.7"/><circle cx="1138.9" cy="1037.8" r="3.7"/><circle cx="1142.3" cy="1054.2" r="3.7"/><circle cx="1145.6" cy="1069.5" r="3.7"/><circle cx="1149.0" cy="1096.4" r="3.7"/><circle cx="1152.3" cy="1129.9" r="3.7"/><circle cx="1155.7" cy="1147.6" r="3.7"/><circle cx="1159.0" cy="1148.7" r="3.7"/><circle cx="1162.4" cy="1133.0" r="3.7"/><circle cx="1165.7" cy="1083.6" r="3.7"/><circle cx="1169.1" cy="1063.4" r="3.7"/><circle cx="1172.4" cy="1047.5" r="3.7"/><circle cx="1175.8" cy="1035.2" r="3.7"/><circle cx="1179.1" cy="1024.4" r="3.7"/><circle cx="1182.5" cy="1015.5" r="3.7"/><circle cx="1185.8" cy="1008.4" r="3.7"/><circle cx="1189.2" cy="1002.6" r="3.7"/><circle cx="1192.5" cy="996.9" r="3.7"/><circle cx="1195.9" cy="991.1" r="3.7"/><circle cx="1199.2" cy="986.0" r="3.7"/><circle cx="1202.5" cy="982.7" r="3.7"/><circle cx="1205.9" cy="979.4" r="3.7"/><circle cx="1209.2" cy="976.1" r="3.7"/><circle cx="1212.6" cy="973.3" r="3.7"/><circle cx="1215.9" cy="970.4" r="3.7"/><circle cx="1219.3" cy="967.5" r="3.7"/><circle cx="1222.6" cy="964.6" r="3.7"/><circle cx="1226.0" cy="962.4" r="3.7"/><circle cx="1229.3" cy="960.3" r="3.7"/><circle cx="1232.7" cy="958.2" r="3.7"/><circle cx="1236.0" cy="956.1" r="3.7"/><circle cx="1239.4" cy="954.0" r="3.7"/><circle cx="1242.7" cy="952.1" r="3.7"/><circle cx="1246.1" cy="950.2" r="3.7"/><circle cx="1249.4" cy="948.3" r="3.7"/><circle cx="1252.8" cy="946.4" r="3.7"/><circle cx="1256.1" cy="945.0" r="3.7"/><circle cx="1259.5" cy="943.8" r="3.7"/><circle cx="1262.8" cy="942.6" r="3.7"/><circle cx="1266.2" cy="941.5" r="3.7"/><circle cx="1269.5" cy="940.3" r="3.7"/><circle cx="1272.9" cy="939.1" r="3.7"/><circle cx="1276.2" cy="938.3" r="3.7"/><circle cx="1279.6" cy="937.8" r="3.7"/><circle cx="1282.9" cy="937.3" r="3.7"/><circle cx="1286.3" cy="936.8" r="3.7"/><circle cx="1289.6" cy="936.3" r="3.7"/><circle cx="1293.0" cy="935.8" r="3.7"/><circle cx="1296.3" cy="935.4" r="3.7"/><circle cx="1299.7" cy="935.1" r="3.7"/><circle cx="1303.0" cy="934.9" r="3.7"/><circle cx="1306.4" cy="934.6" r="3.7"/><circle cx="1309.7" cy="934.3" r="3.7"/><circle cx="1313.1" cy="934.1" r="3.7"/><circle cx="1316.4" cy="933.9" r="3.7"/><circle cx="1319.8" cy="934.0" r="3.7"/><circle cx="1323.1" cy="934.0" r="3.7"/><circle cx="1326.5" cy="934.1" r="3.7"/><circle cx="1329.8" cy="934.2" r="3.7"/><circle cx="1333.2" cy="934.2" r="3.7"/><circle cx="1336.5" cy="934.3" r="3.7"/><circle cx="1339.9" cy="934.4" r="3.7"/><circle cx="1343.2" cy="934.4" r="3.7"/><circle cx="1346.6" cy="934.5" r="3.7"/><circle cx="1349.9" cy="935.0" r="3.7"/><circle cx="1353.3" cy="935.4" r="3.7"/><circle cx="1356.6" cy="935.9" r="3.7"/><circle cx="1360.0" cy="936.3" r="3.7"/><circle cx="1363.3" cy="936.8" r="3.7"/><circle cx="1366.7" cy="937.2" r="3.7"/><circle cx="1370.0" cy="937.6" r="3.7"/><circle cx="1373.4" cy="938.1" r="3.7"/><circle cx="1376.7" cy="938.5" r="3.7"/><circle cx="1380.1" cy="939.3" r="3.7"/><circle cx="1383.4" cy="940.1" r="3.7"/><circle cx="1386.8" cy="940.8" r="3.7"/><circle cx="1390.1" cy="941.6" r="3.7"/><circle cx="1393.5" cy="942.4" r="3.7"/><circle cx="1396.8" cy="943.2" r="3.7"/><circle cx="1400.2" cy="944.0" r="3.7"/><circle cx="1403.5" cy="944.8" r="3.7"/><circle cx="1406.9" cy="945.5" r="3.7"/><circle cx="1410.2" cy="946.4" r="3.7"/><circle cx="1413.6" cy="947.3" r="3.7"/><circle cx="1416.9" cy="948.2" r="3.7"/><circle cx="1420.3" cy="949.1" r="3.7"/><circle cx="1423.6" cy="950.0" r="3.7"/><circle cx="1427.0" cy="950.8" r="3.7"/><circle cx="1430.3" cy="951.7" r="3.7"/><circle cx="1433.7" cy="952.6" r="3.7"/><circle cx="1437.0" cy="953.5" r="3.7"/><circle cx="1440.4" cy="954.4" r="3.7"/><circle cx="1443.7" cy="955.4" r="3.7"/><circle cx="1447.1" cy="956.4" r="3.7"/><circle cx="1450.4" cy="957.3" r="3.7"/><circle cx="1453.8" cy="958.3" r="3.7"/><circle cx="1457.1" cy="959.2" r="3.7"/><circle cx="1460.5" cy="960.2" r="3.7"/><circle cx="1463.8" cy="961.2" r="3.7"/><circle cx="1467.2" cy="962.1" r="3.7"/><circle cx="1470.5" cy="963.1" r="3.7"/><circle cx="1473.9" cy="964.0" r="3.7"/><circle cx="1477.2" cy="965.0" r="3.7"/><circle cx="1480.6" cy="966.2" r="3.7"/><circle cx="1483.9" cy="967.6" r="3.7"/><circle cx="1487.3" cy="969.1" r="3.7"/><circle cx="1490.6" cy="970.5" r="3.7"/><circle cx="1494.0" cy="972.0" r="3.7"/><circle cx="1497.3" cy="973.4" r="3.7"/><circle cx="1500.7" cy="974.8" r="3.7"/><circle cx="1504.0" cy="976.2" r="3.7"/><circle cx="1507.4" cy="977.5" r="3.7"/><circle cx="1510.7" cy="978.9" r="3.7"/><circle cx="1514.1" cy="980.2" r="3.7"/><circle cx="1517.4" cy="981.5" r="3.7"/><circle cx="1520.8" cy="982.9" r="3.7"/><circle cx="1524.1" cy="984.2" r="3.7"/><circle cx="1527.5" cy="985.5" r="3.7"/><circle cx="1530.8" cy="986.9" r="3.7"/><circle cx="1534.2" cy="988.2" r="3.7"/><circle cx="1537.5" cy="989.5" r="3.7"/><circle cx="1540.9" cy="990.9" r="3.7"/><circle cx="1544.2" cy="992.2" r="3.7"/><circle cx="1547.6" cy="993.6" r="3.7"/><circle cx="1550.9" cy="994.9" r="3.7"/><circle cx="1554.3" cy="996.3" r="3.7"/><circle cx="1557.6" cy="997.6" r="3.7"/><circle cx="1561.0" cy="999.0" r="3.7"/><circle cx="1564.3" cy="1000.6" r="3.7"/><circle cx="1567.7" cy="1002.3" r="3.7"/><circle cx="1571.0" cy="1004.0" r="3.7"/><circle cx="1574.4" cy="1005.7" r="3.7"/><circle cx="1577.7" cy="1007.4" r="3.7"/><circle cx="1581.1" cy="1009.0" r="3.7"/><circle cx="1584.4" cy="1010.7" r="3.7"/><circle cx="1587.8" cy="1012.4" r="3.7"/><circle cx="1591.1" cy="1014.0" r="3.7"/><circle cx="1594.5" cy="1015.7" r="3.7"/><circle cx="1597.8" cy="1017.3" r="3.7"/><circle cx="1601.2" cy="1019.0" r="3.7"/><circle cx="1604.5" cy="1020.9" r="3.7"/><circle cx="1607.9" cy="1022.9" r="3.7"/><circle cx="1611.2" cy="1024.9" r="3.7"/><circle cx="1614.6" cy="1026.9" r="3.7"/><circle cx="1617.9" cy="1029.0" r="3.7"/><circle cx="1621.3" cy="1031.0" r="3.7"/><circle cx="1624.6" cy="1033.2" r="3.7"/><circle cx="1628.0" cy="1035.5" r="3.7"/><circle cx="1631.3" cy="1037.9" r="3.7"/><circle cx="1634.7" cy="1040.2" r="3.7"/><circle cx="1638.0" cy="1042.6" r="3.7"/><circle cx="1641.4" cy="1044.9" r="3.7"/><circle cx="1644.7" cy="1047.3" r="3.7"/><circle cx="1648.1" cy="1049.8" r="3.7"/><circle cx="1651.4" cy="1052.3" r="3.7"/><circle cx="1654.8" cy="1054.8" r="3.7"/><circle cx="1658.1" cy="1057.3" r="3.7"/><circle cx="1661.5" cy="1060.0" r="3.7"/><circle cx="1664.8" cy="1062.9" r="3.7"/><circle cx="1668.2" cy="1065.8" r="3.7"/><circle cx="1671.5" cy="1068.6" r="3.7"/><circle cx="1674.9" cy="1071.5" r="3.7"/><circle cx="1678.2" cy="1074.2" r="3.7"/><circle cx="1681.6" cy="1076.8" r="3.7"/><circle cx="1684.9" cy="1079.6" r="3.7"/><circle cx="1688.3" cy="1083.5" r="3.7"/><circle cx="1691.6" cy="1087.4" r="3.7"/><circle cx="1695.0" cy="1091.4" r="3.7"/><circle cx="1698.3" cy="1095.4" r="3.7"/><circle cx="1701.7" cy="1099.6" r="3.7"/><circle cx="1705.0" cy="1103.8" r="3.7"/><circle cx="1708.4" cy="1108.0" r="3.7"/><circle cx="1711.7" cy="1113.0" r="3.7"/><circle cx="1715.1" cy="1118.7" r="3.7"/><circle cx="1718.4" cy="1124.5" r="3.7"/><circle cx="1721.8" cy="1130.2" r="3.7"/><circle cx="1725.1" cy="1136.1" r="3.7"/><circle cx="1728.5" cy="1141.9" r="3.7"/><circle cx="1731.8" cy="1148.6" r="3.7"/><circle cx="1735.2" cy="1155.3" r="3.7"/><circle cx="1738.5" cy="1162.8" r="3.7"/><circle cx="1741.9" cy="1171.1" r="3.7"/><circle cx="1745.2" cy="1179.5" r="3.7"/><circle cx="1748.6" cy="1191.2" r="3.7"/><circle cx="1751.9" cy="1207.1" r="3.7"/><circle cx="1755.3" cy="1228.9" r="3.7"/><circle cx="1758.6" cy="1260.4" r="3.7"/><circle cx="1762.0" cy="1286.1" r="3.7"/><circle cx="1765.3" cy="1300.7" r="3.7"/><circle cx="1768.7" cy="1306.8" r="3.7"/><circle cx="1772.0" cy="1257.3" r="3.7"/><circle cx="1775.4" cy="1224.8" r="3.7"/><circle cx="1778.7" cy="1207.2" r="3.7"/><circle cx="1782.1" cy="1192.6" r="3.7"/><circle cx="1785.4" cy="1181.7" r="3.7"/><circle cx="1788.8" cy="1172.1" r="3.7"/><circle cx="1792.1" cy="1164.1" r="3.7"/><circle cx="1795.5" cy="1156.6" r="3.7"/><circle cx="1798.8" cy="1149.7" r="3.7"/><circle cx="1802.2" cy="1142.7" r="3.7"/><circle cx="1805.5" cy="1137.0" r="3.7"/><circle cx="1808.9" cy="1132.8" r="3.7"/><circle cx="1812.2" cy="1128.6" r="3.7"/><circle cx="1815.6" cy="1124.4" r="3.7"/><circle cx="1818.9" cy="1120.8" r="3.7"/><circle cx="1822.3" cy="1118.1" r="3.7"/><circle cx="1825.6" cy="1115.5" r="3.7"/><circle cx="1829.0" cy="1112.8" r="3.7"/><circle cx="1832.3" cy="1110.1" r="3.7"/><circle cx="1835.7" cy="1107.7" r="3.7"/><circle cx="1839.0" cy="1105.7" r="3.7"/><circle cx="1842.4" cy="1103.8" r="3.7"/><circle cx="1845.7" cy="1101.8" r="3.7"/><circle cx="1849.1" cy="1099.8" r="3.7"/><circle cx="1852.4" cy="1097.8" r="3.7"/><circle cx="1855.8" cy="1096.5" r="3.7"/><circle cx="1859.1" cy="1095.2" r="3.7"/><circle cx="1862.5" cy="1093.9" r="3.7"/><circle cx="1865.8" cy="1092.6" r="3.7"/><circle cx="1869.2" cy="1091.5" r="3.7"/><circle cx="1872.5" cy="1090.6" r="3.7"/></g>
<path d="M321.5 1330.0C322.1 1324.3 322.6 1320.7 323.2 1313.0C324.5 1296.6 326.0 1261.3 327.3 1235.7C328.6 1210.3 329.6 1182.6 331.2 1160.0C332.5 1141.7 334.1 1127.3 335.5 1110.2C337.0 1091.9 338.3 1072.4 339.7 1053.5C341.1 1034.6 342.4 1015.1 344.0 996.7C345.5 979.2 347.0 962.6 348.9 945.7C350.7 929.1 352.9 912.0 355.1 896.3C357.1 882.0 358.8 868.5 361.3 855.2C363.7 842.5 366.3 830.0 369.5 818.1C372.5 806.7 376.5 794.3 379.8 785.2C382.3 778.5 384.4 773.1 387.0 768.0C389.3 763.6 391.8 759.8 394.2 756.0C396.5 752.4 398.4 749.0 401.0 745.6C403.8 742.0 406.6 738.0 410.6 735.0C415.1 731.6 421.8 727.2 427.1 727.1C432.0 727.0 437.5 730.7 441.5 733.5C445.1 736.0 447.8 738.8 450.3 742.5C453.2 746.7 455.3 752.7 457.5 757.9C459.7 763.0 462.0 768.2 463.7 773.4C465.4 778.5 466.8 783.7 467.8 788.9C468.8 794.0 469.2 799.0 469.9 804.3C470.7 810.1 471.5 815.1 472.3 822.3C473.6 833.2 475.1 850.7 476.4 863.4C477.5 874.4 477.2 887.4 479.5 894.2C480.8 898.0 483.3 902.6 484.7 902.5C485.9 902.4 486.9 899.3 487.7 896.3C489.5 889.8 489.6 874.2 490.8 863.4C492.0 852.9 493.6 840.5 495.0 832.5C495.9 827.3 496.8 824.4 497.7 819.8C498.8 814.3 499.9 807.3 501.1 801.7C502.2 796.7 502.8 792.4 504.4 787.7C506.2 782.6 508.6 776.9 511.6 772.2C514.5 767.7 518.2 763.1 521.9 759.9C525.1 757.1 528.3 755.4 532.2 753.7C536.7 751.8 542.5 750.9 547.7 749.5C552.9 748.1 558.7 747.3 563.2 745.4C567.1 743.7 569.8 741.7 573.5 739.2C578.2 736.1 583.7 731.2 589.0 727.9C594.1 724.7 599.6 721.5 604.5 719.6C608.6 718.0 612.2 716.4 616.3 716.8C621.0 717.2 626.7 720.7 631.0 723.3C634.9 725.7 638.4 728.6 641.3 731.6C643.9 734.2 645.7 736.4 647.7 740.0C650.6 745.2 653.2 753.7 655.5 760.6C657.8 767.5 659.9 774.9 661.7 781.3C663.3 786.8 664.6 791.2 665.8 796.8C667.1 803.1 667.9 810.4 668.9 817.4C670.0 824.8 671.2 831.8 672.2 840.0C673.4 849.8 674.1 861.2 675.2 872.2C676.4 883.7 678.0 907.5 679.3 907.5C680.2 907.5 681.1 896.6 682.0 890.0C683.2 881.3 684.5 869.4 685.5 860.0C686.4 851.6 687.2 843.2 688.0 836.0C688.6 830.1 689.1 825.8 689.8 820.0C690.6 813.0 691.1 803.0 692.4 796.8C693.3 792.6 694.3 789.9 695.5 786.4C696.7 782.7 698.2 778.7 699.6 775.1C700.9 771.8 702.2 768.9 703.7 765.8C705.3 762.7 706.9 759.3 708.9 756.5C710.8 753.8 712.8 751.4 715.1 749.3C717.3 747.3 719.9 745.5 722.3 744.1C724.5 742.8 726.6 741.7 729.0 741.0C731.6 740.2 734.4 739.8 737.4 739.8C740.7 739.8 744.3 740.1 748.0 741.0C752.2 742.1 756.5 743.8 761.3 746.2C767.5 749.3 775.3 753.4 781.8 758.5C789.0 764.1 797.1 773.2 802.4 779.1C806.0 783.2 808.4 785.7 811.0 790.0C814.0 795.1 816.3 801.8 818.8 808.0C821.4 814.5 823.8 821.6 826.0 828.0C828.0 833.9 829.7 839.1 831.6 845.0C833.7 851.4 835.8 858.4 838.0 865.0C840.1 871.4 842.6 877.9 844.5 884.0C846.2 889.5 847.6 894.0 849.0 900.0C850.7 907.4 852.2 915.6 853.5 925.0C855.2 937.0 856.3 952.3 857.5 966.0C858.8 979.8 859.8 997.7 861.0 1007.4C861.7 1012.7 862.1 1019.6 863.1 1019.7C864.1 1019.8 866.0 1012.5 867.2 1007.4C869.0 999.5 870.1 986.8 871.3 976.5C872.5 966.2 872.9 955.9 874.4 945.7C875.9 935.4 877.8 923.9 880.5 914.8C882.8 907.1 885.4 900.7 888.8 894.2C892.2 887.7 896.3 880.6 901.1 875.7C905.4 871.3 910.0 867.9 915.5 865.4C921.5 862.6 929.2 860.3 936.1 860.3C942.9 860.3 949.9 862.9 956.6 865.4C963.6 868.0 970.6 871.4 977.2 875.7C984.3 880.3 991.1 886.2 997.8 892.2C1004.8 898.5 1012.2 905.3 1018.3 912.8C1024.5 920.4 1029.9 928.2 1034.8 937.4C1040.4 947.8 1045.3 961.4 1049.2 972.4C1052.6 981.8 1055.1 989.7 1057.4 999.1C1060.0 1009.4 1061.9 1020.5 1063.6 1032.0C1065.4 1044.4 1066.7 1059.0 1067.7 1071.1C1068.6 1081.5 1068.7 1093.4 1069.7 1100.0C1070.2 1103.5 1070.0 1107.0 1071.5 1108.0C1072.7 1108.8 1075.7 1108.3 1077.0 1107.0C1079.0 1105.1 1078.8 1100.3 1079.5 1095.0C1080.8 1084.8 1080.8 1063.5 1082.0 1050.0C1082.9 1039.0 1084.3 1029.0 1085.5 1020.0C1086.5 1012.6 1086.9 1006.6 1088.7 999.9C1090.6 992.9 1094.2 985.5 1097.1 979.0C1099.8 973.0 1102.5 967.3 1105.4 962.2C1108.1 957.6 1110.9 953.5 1113.8 949.6C1116.5 946.0 1119.4 942.9 1122.2 939.6C1124.8 936.5 1127.1 933.4 1130.0 930.4C1133.2 927.2 1136.3 923.9 1140.7 921.0C1146.3 917.3 1153.5 913.4 1161.3 910.8C1170.4 907.7 1181.8 906.0 1192.1 904.7C1202.3 903.4 1212.7 903.0 1223.0 903.0C1233.3 903.0 1244.6 903.8 1253.8 904.7C1261.4 905.5 1266.9 906.4 1274.4 907.8C1283.7 909.6 1295.0 912.1 1305.2 915.0C1315.6 917.9 1325.8 921.6 1336.1 925.2C1346.4 928.8 1356.4 933.0 1366.9 936.5C1377.7 940.1 1389.0 941.6 1400.0 946.3C1412.1 951.5 1424.1 960.2 1436.1 967.1C1448.1 974.0 1460.4 980.1 1472.2 987.8C1484.4 995.7 1498.5 1006.1 1508.3 1014.0C1515.5 1019.9 1520.6 1024.3 1526.4 1030.3C1532.6 1036.8 1538.7 1044.6 1544.4 1051.9C1549.9 1059.0 1554.8 1065.6 1560.0 1073.6C1565.9 1082.8 1572.8 1093.1 1577.7 1104.0C1582.9 1115.5 1586.9 1129.8 1590.1 1141.0C1592.7 1150.0 1594.5 1157.0 1596.2 1165.7C1598.0 1175.4 1598.9 1186.2 1600.3 1196.5C1601.7 1206.8 1603.2 1217.4 1604.4 1227.4C1605.6 1236.9 1606.2 1248.6 1607.5 1255.0C1608.2 1258.5 1609.1 1263.0 1610.0 1263.0C1610.9 1263.0 1611.9 1258.7 1612.7 1255.0C1614.4 1247.1 1615.2 1230.7 1616.8 1217.1C1618.6 1201.3 1620.1 1180.6 1623.0 1165.7C1625.2 1154.0 1627.7 1144.6 1631.2 1134.8C1634.6 1125.4 1638.5 1116.2 1643.5 1108.1C1648.2 1100.5 1654.1 1093.2 1660.0 1087.5C1665.2 1082.5 1670.6 1078.9 1676.4 1075.2C1682.3 1071.4 1688.5 1068.0 1694.9 1064.9C1701.5 1061.8 1707.9 1059.2 1715.5 1056.7C1724.7 1053.7 1736.1 1050.6 1746.4 1048.4C1756.6 1046.2 1766.9 1044.5 1777.2 1043.3C1787.4 1042.1 1797.7 1041.6 1808.0 1041.2C1818.3 1040.8 1829.2 1040.6 1838.9 1040.8C1847.6 1041.0 1856.9 1041.9 1863.6 1042.3C1868.1 1042.6 1871.2 1042.8 1875.0 1043.0" stroke="#00ff00" stroke-width="3.4"/>
<path d="M330.0 1330.0C330.5 1324.3 330.9 1320.7 331.4 1313.0C332.5 1296.6 334.0 1261.0 335.6 1235.7C337.1 1211.3 339.0 1185.7 340.7 1163.7C342.1 1145.1 343.1 1128.5 344.8 1112.3C346.3 1097.8 348.1 1083.8 350.0 1071.1C351.6 1060.1 353.3 1051.2 355.1 1040.3C357.1 1028.0 358.9 1011.5 361.3 1001.2C362.9 994.2 364.5 989.2 366.7 984.0C368.7 979.3 371.1 973.7 373.8 971.2C375.5 969.5 377.5 968.6 379.4 968.4C381.2 968.2 383.3 968.7 385.0 970.0C387.3 971.8 389.3 976.3 390.8 979.7C392.4 983.2 393.3 986.8 394.2 990.9C395.2 995.8 395.6 1001.3 396.2 1007.4C397.0 1014.8 397.8 1023.0 398.3 1032.0C398.9 1042.8 398.9 1056.5 399.3 1067.7C399.7 1077.7 400.3 1087.0 400.7 1096.0C401.0 1104.3 401.2 1112.9 401.5 1120.0C401.7 1125.6 402.0 1135.0 402.3 1135.0C402.7 1135.0 403.4 1118.7 404.0 1110.0C404.6 1100.5 405.4 1090.0 406.0 1080.0C406.6 1070.0 407.0 1060.7 407.5 1050.0C408.1 1037.6 408.8 1022.9 409.5 1010.0C410.2 997.9 410.7 986.7 411.6 975.0C412.5 963.3 413.3 950.2 414.7 940.0C415.8 932.0 417.5 926.2 418.8 918.9C420.2 911.0 421.2 902.2 423.0 894.2C424.7 886.5 427.0 878.9 429.1 871.6C431.1 864.6 432.9 857.9 435.3 851.1C437.7 844.2 440.2 836.6 443.5 830.5C446.5 825.1 450.3 820.6 453.8 816.1C457.2 811.8 461.2 807.5 464.1 803.8C466.4 801.0 467.5 798.1 469.9 796.1C472.2 794.2 475.2 793.0 478.0 792.0C480.7 791.0 483.3 790.3 486.4 789.9C490.2 789.4 495.3 789.4 499.0 789.4C502.0 789.4 504.3 789.6 507.0 789.9C509.8 790.2 512.0 790.8 515.5 791.4C520.9 792.3 528.8 793.7 536.1 794.5C544.4 795.5 554.1 796.1 562.8 796.6C571.2 797.1 580.4 796.5 587.5 797.6C593.0 798.5 597.4 799.6 601.9 801.7C606.3 803.7 610.3 806.5 614.2 809.9C618.6 813.8 623.0 818.7 626.6 824.3C630.7 830.7 634.0 839.5 636.8 846.9C639.4 853.8 641.0 860.1 643.0 867.5C645.4 876.1 648.1 885.0 650.0 895.7C652.4 909.3 653.6 927.0 655.0 942.7C656.4 958.3 657.4 977.5 658.4 989.6C659.0 997.2 659.3 1008.1 660.1 1008.1C660.8 1008.1 661.7 1000.1 662.5 995.0C663.6 988.0 664.8 978.3 666.0 970.0C667.3 961.7 668.5 953.1 670.0 945.0C671.5 937.2 673.2 929.1 675.0 922.0C676.6 915.9 677.6 910.0 680.0 905.0C682.2 900.4 685.5 897.0 688.6 893.0C692.0 888.6 694.7 882.4 699.6 879.8C705.0 877.0 713.3 878.1 720.1 877.8C727.0 877.5 733.9 878.5 740.7 877.8C747.6 877.1 754.6 875.1 761.3 873.7C767.7 872.4 774.1 871.6 780.0 869.6C785.7 867.6 790.7 864.1 796.1 861.9C801.4 859.8 807.2 858.5 812.2 856.7C816.8 855.1 821.1 852.8 825.1 851.6C828.5 850.6 831.6 850.3 834.8 849.6C838.0 849.0 840.7 848.1 844.5 847.7C849.8 847.1 857.2 846.9 863.8 847.1C870.6 847.3 877.8 847.8 884.7 849.0C891.6 850.2 898.5 851.8 905.2 854.1C912.2 856.5 919.0 859.9 925.8 863.4C932.8 867.0 939.8 870.8 946.4 875.7C953.5 881.0 960.5 888.1 966.9 894.2C972.8 899.8 978.6 904.8 983.4 910.7C988.1 916.5 991.8 922.5 995.7 929.2C1000.0 936.7 1004.2 945.6 1008.0 953.9C1011.7 962.1 1015.3 970.0 1018.3 978.6C1021.5 987.7 1024.5 998.3 1026.6 1007.4C1028.5 1015.3 1029.5 1021.3 1030.7 1030.0C1032.3 1041.6 1033.5 1058.6 1034.8 1071.1C1035.9 1081.6 1036.8 1091.7 1038.0 1100.0C1038.9 1106.3 1040.2 1116.4 1041.0 1116.4C1041.9 1116.4 1042.3 1102.3 1043.0 1095.0C1043.7 1087.3 1044.2 1079.6 1045.1 1071.1C1046.2 1061.5 1047.5 1050.7 1049.2 1040.3C1050.9 1029.5 1052.6 1017.2 1055.3 1007.4C1057.6 999.1 1060.7 990.8 1063.6 985.0C1065.6 981.0 1067.4 978.8 1069.7 975.5C1072.4 971.6 1075.9 966.6 1079.0 963.0C1081.7 959.9 1084.2 957.9 1087.2 955.0C1090.9 951.5 1094.9 947.7 1099.6 943.5C1105.5 938.2 1112.8 929.7 1120.1 926.0C1126.6 922.7 1133.8 922.3 1140.7 921.1C1147.5 920.0 1154.4 919.4 1161.3 919.1C1168.1 918.8 1175.0 918.8 1181.8 919.1C1188.7 919.4 1195.6 920.1 1202.4 921.1C1209.3 922.1 1216.2 923.7 1223.0 925.2C1229.9 926.8 1236.7 928.2 1243.5 930.4C1250.4 932.6 1257.2 936.0 1264.1 938.6C1270.9 941.2 1278.0 942.7 1284.7 945.8C1291.7 949.1 1298.4 953.7 1305.2 958.1C1312.1 962.6 1319.0 967.4 1325.8 972.5C1332.8 977.7 1340.1 983.3 1346.4 989.0C1352.3 994.3 1357.6 999.8 1362.8 1005.4C1367.9 1010.8 1372.8 1015.9 1377.2 1021.9C1381.8 1028.2 1385.6 1035.8 1389.5 1042.5C1393.1 1048.8 1396.7 1054.6 1399.8 1061.0C1402.9 1067.6 1405.5 1074.8 1408.0 1081.5C1410.3 1087.8 1412.4 1094.0 1414.2 1100.0C1415.8 1105.6 1417.0 1110.4 1418.3 1116.5C1419.8 1123.9 1421.2 1131.8 1422.4 1141.1C1424.0 1153.1 1425.2 1168.6 1426.6 1182.3C1428.0 1196.0 1429.6 1210.9 1430.7 1223.4C1431.6 1233.8 1432.0 1252.2 1432.7 1252.2C1433.4 1252.2 1434.0 1233.9 1434.8 1223.4C1435.7 1210.9 1436.5 1196.0 1437.9 1182.3C1439.3 1168.6 1440.9 1153.6 1443.0 1141.1C1444.8 1130.6 1446.9 1120.9 1449.2 1112.4C1451.1 1105.5 1453.2 1099.9 1455.3 1093.9C1457.3 1088.2 1459.1 1082.8 1461.5 1077.4C1463.9 1071.9 1466.7 1066.2 1469.7 1061.0C1472.6 1055.9 1475.0 1050.7 1479.0 1046.4C1483.4 1041.7 1490.0 1038.1 1495.5 1034.0C1501.0 1029.9 1506.1 1025.4 1511.9 1021.7C1517.8 1017.9 1524.0 1014.5 1530.4 1011.4C1537.0 1008.3 1544.1 1005.4 1551.0 1003.2C1557.8 1001.0 1564.6 999.4 1571.5 998.0C1578.3 996.6 1585.2 995.9 1592.1 995.0C1599.0 994.2 1605.1 993.4 1612.7 992.9C1621.9 992.3 1633.2 992.1 1643.5 991.9C1653.8 991.7 1664.1 991.7 1674.4 991.9C1684.7 992.1 1694.9 992.6 1705.2 993.3C1715.5 994.0 1725.8 994.9 1736.1 996.0C1746.4 997.1 1756.6 998.6 1766.9 1000.1C1777.2 1001.6 1787.5 1003.2 1797.8 1005.2C1808.1 1007.3 1818.0 1010.2 1828.6 1012.4C1839.9 1014.7 1855.1 1017.3 1863.6 1018.6C1868.4 1019.3 1871.2 1019.5 1875.0 1020.0" stroke="#ff0000" stroke-width="5.6" stroke-dasharray="22 8 9 8"/>
<path d="M329.5 1330.0C330.1 1324.3 330.8 1320.7 331.4 1313.0C332.8 1296.6 334.0 1261.0 335.6 1235.7C337.1 1211.3 339.0 1185.7 340.7 1163.7C342.1 1145.1 343.2 1128.7 344.8 1112.3C346.3 1097.2 348.0 1081.8 349.8 1069.0C351.3 1058.6 353.0 1049.7 354.5 1041.0C355.8 1033.3 356.7 1026.7 358.2 1019.4C359.8 1011.9 361.4 1003.3 363.8 996.7C365.8 991.3 368.0 986.3 370.9 982.6C373.3 979.5 376.7 976.3 379.4 975.5C381.3 974.9 383.4 974.8 385.0 976.0C387.4 977.8 388.6 984.1 390.1 988.8C391.8 994.4 393.1 1000.5 394.2 1007.4C395.6 1015.9 396.5 1026.3 397.3 1036.1C398.2 1046.4 398.7 1057.5 399.3 1067.7C399.8 1077.4 400.2 1086.6 400.7 1096.0C401.2 1105.5 401.7 1115.6 402.1 1124.4C402.4 1132.0 402.3 1145.7 402.8 1145.7C403.3 1145.7 404.2 1132.5 405.0 1125.0C405.9 1116.1 407.1 1106.6 407.8 1096.0C408.6 1083.2 408.9 1067.7 409.2 1053.5C409.6 1039.3 409.4 1025.1 409.9 1010.9C410.4 996.7 411.0 980.1 412.1 968.4C412.9 960.1 413.9 954.6 414.9 947.1C416.1 938.6 417.4 928.7 418.8 920.0C420.1 911.8 421.3 904.1 423.0 896.3C424.7 888.6 427.0 881.0 429.1 873.7C431.1 866.7 432.9 859.9 435.3 853.1C437.7 846.2 440.2 838.6 443.5 832.5C446.5 827.1 450.2 822.3 453.8 818.1C457.1 814.3 460.3 810.7 464.1 808.0C467.8 805.4 471.8 804.0 476.1 802.3C480.9 800.4 485.9 798.0 491.5 797.1C497.8 796.1 505.1 796.4 512.2 797.1C519.9 797.8 527.6 800.6 536.1 801.7C545.7 802.9 557.7 803.0 566.9 803.8C574.5 804.4 581.2 804.0 587.5 805.8C593.4 807.5 598.8 810.6 603.9 814.0C609.1 817.5 614.1 821.8 618.3 826.4C622.3 830.8 625.4 835.4 628.6 840.8C632.3 846.9 635.8 854.2 638.9 861.3C642.0 868.6 645.0 876.5 647.1 884.0C649.0 890.9 649.9 896.9 651.2 904.5C652.7 913.7 654.3 927.4 655.3 935.4C655.9 940.4 656.3 942.9 656.7 947.7C657.3 954.6 657.8 964.5 658.4 972.9C659.0 981.3 659.6 989.4 660.1 998.0C660.7 1007.2 660.7 1023.0 661.7 1026.5C661.9 1027.4 662.2 1028.0 662.5 1028.0C663.7 1027.8 665.3 1008.3 666.8 998.0C668.4 987.1 670.3 974.9 671.8 964.5C673.1 955.5 674.2 947.4 675.2 939.3C676.1 931.8 676.3 924.6 677.7 917.5C679.1 910.6 681.2 903.3 683.5 897.4C685.5 892.4 687.7 888.0 690.3 884.0C692.8 880.2 695.3 876.0 698.6 873.9C701.5 872.0 705.2 872.0 708.7 871.4C712.4 870.8 716.0 870.9 720.4 870.6C726.2 870.3 733.9 870.1 740.7 869.6C747.5 869.1 754.7 868.9 761.3 867.5C767.8 866.1 774.3 863.0 780.0 861.3C784.7 859.9 788.7 859.6 792.9 858.0C797.3 856.4 801.5 853.5 805.8 851.6C810.1 849.7 815.9 846.0 818.7 846.4C820.2 846.6 821.0 847.6 822.0 849.0C823.7 851.3 824.0 857.9 826.4 860.0C828.5 861.8 831.3 861.6 834.8 861.9C840.5 862.4 850.9 860.6 857.4 860.6C862.3 860.6 865.6 860.9 870.3 861.3C876.1 861.7 884.2 862.4 889.6 863.2C893.6 863.8 896.3 864.0 900.0 865.1C904.7 866.5 910.0 869.1 915.5 871.6C921.9 874.5 930.0 878.2 936.1 881.9C941.5 885.1 946.2 888.0 950.5 892.2C955.2 896.7 958.6 903.4 962.8 908.6C966.8 913.6 971.1 917.8 975.1 923.0C979.4 928.7 983.7 935.3 987.5 941.5C991.2 947.6 994.4 953.6 997.8 960.0C1001.3 966.6 1004.8 973.9 1008.0 980.6C1011.0 986.9 1013.9 992.9 1016.3 999.1C1018.7 1005.2 1020.5 1012.1 1022.4 1017.6C1023.9 1022.1 1025.3 1024.6 1026.6 1030.0C1028.9 1039.6 1031.0 1057.4 1032.7 1071.1C1034.4 1084.8 1035.2 1100.1 1036.8 1112.3C1038.1 1122.2 1039.4 1138.9 1041.0 1139.0C1042.3 1139.1 1043.9 1129.3 1045.1 1122.5C1046.9 1111.9 1047.7 1094.1 1049.2 1081.4C1050.5 1070.4 1051.8 1059.8 1053.3 1050.6C1054.6 1043.0 1055.7 1037.0 1057.4 1030.0C1059.1 1022.6 1061.2 1013.7 1063.6 1007.4C1065.4 1002.5 1067.3 999.3 1069.7 995.0C1072.4 990.2 1075.4 984.7 1079.0 980.0C1082.6 975.2 1086.8 970.4 1091.3 966.4C1095.7 962.5 1100.8 959.2 1105.7 956.1C1110.4 953.1 1114.7 950.1 1120.1 947.9C1126.2 945.4 1133.8 943.9 1140.7 942.7C1147.5 941.5 1154.4 941.0 1161.3 940.7C1168.1 940.4 1175.0 940.4 1181.8 940.7C1188.7 941.0 1195.5 941.9 1202.4 942.7C1209.3 943.6 1216.2 944.3 1223.0 945.8C1229.9 947.4 1236.7 949.8 1243.5 952.0C1250.4 954.2 1257.3 956.5 1264.1 959.2C1271.0 962.0 1277.9 965.2 1284.7 968.4C1291.6 971.7 1298.6 974.4 1305.2 978.7C1312.3 983.3 1318.9 989.7 1325.8 995.2C1332.7 1000.7 1339.6 1005.9 1346.4 1011.6C1353.3 1017.5 1360.6 1023.8 1366.9 1030.1C1372.9 1036.1 1378.6 1042.0 1383.4 1048.6C1388.2 1055.1 1392.2 1062.4 1395.7 1069.2C1398.9 1075.4 1401.8 1082.1 1404.0 1087.7C1405.7 1092.2 1406.5 1095.0 1408.0 1100.0C1410.4 1107.9 1413.9 1120.5 1416.3 1130.8C1418.7 1141.1 1420.7 1150.6 1422.4 1161.7C1424.3 1174.4 1425.6 1189.1 1426.6 1202.8C1427.6 1216.5 1427.9 1230.8 1428.6 1244.0C1429.3 1256.1 1429.6 1278.9 1430.7 1278.9C1432.1 1278.9 1435.0 1240.5 1436.8 1223.4C1438.4 1208.7 1439.5 1195.0 1441.0 1182.3C1442.3 1171.3 1443.4 1161.7 1445.1 1151.4C1446.8 1141.1 1448.6 1130.2 1451.2 1120.6C1453.5 1111.8 1456.5 1103.2 1459.5 1095.9C1462.0 1089.8 1464.3 1084.3 1467.7 1079.5C1470.9 1075.0 1474.5 1071.9 1479.0 1068.0C1484.7 1063.0 1492.7 1057.5 1499.6 1052.5C1506.4 1047.6 1513.1 1042.3 1520.1 1038.1C1526.8 1034.1 1533.7 1030.8 1540.7 1027.9C1547.5 1025.0 1554.4 1022.6 1561.3 1020.7C1568.1 1018.8 1574.9 1017.7 1581.8 1016.6C1588.6 1015.5 1594.8 1014.6 1602.4 1013.9C1611.6 1013.1 1622.9 1012.7 1633.2 1012.4C1643.5 1012.1 1653.8 1012.2 1664.1 1012.4C1674.4 1012.6 1684.7 1013.0 1695.0 1013.5C1705.3 1014.0 1715.5 1014.7 1725.8 1015.5C1736.1 1016.4 1746.3 1017.4 1756.6 1018.6C1766.9 1019.8 1777.2 1021.0 1787.5 1022.7C1797.8 1024.4 1808.0 1026.7 1818.3 1028.9C1828.6 1031.1 1841.3 1033.9 1849.2 1036.1C1854.3 1037.5 1857.3 1039.0 1861.5 1040.2C1865.9 1041.5 1870.5 1042.4 1875.0 1043.5" stroke="#00ffff" stroke-width="6.5" stroke-dasharray="22 8 9 8"/>
<path d="M340.0 1330.0C340.6 1324.3 341.2 1320.3 341.7 1313.0C342.6 1299.6 343.0 1274.9 343.8 1256.0C344.6 1237.2 345.5 1217.9 346.5 1200.0C347.4 1183.6 348.2 1167.4 349.6 1152.8C350.8 1140.1 352.2 1129.1 353.9 1117.3C355.6 1105.5 357.1 1093.2 359.6 1081.8C361.9 1071.0 365.5 1061.1 368.1 1050.6C370.7 1039.9 372.9 1029.1 375.2 1018.0C377.6 1006.5 380.0 990.0 382.3 982.6C383.4 979.1 384.2 977.9 385.5 975.0C387.3 971.1 389.4 965.5 392.2 961.3C394.9 957.2 398.8 953.5 402.0 950.0C404.9 946.9 407.7 944.8 410.6 941.4C414.0 937.4 417.1 927.7 420.9 927.1C424.1 926.6 427.6 932.0 431.2 934.3C435.1 936.8 439.6 938.3 443.5 941.5C448.0 945.2 452.8 950.5 455.9 955.9C459.0 961.4 460.0 968.2 462.0 974.4C464.1 980.6 466.3 987.5 468.2 993.0C469.7 997.4 470.8 1000.5 472.3 1004.9C474.2 1010.4 476.7 1017.9 478.5 1023.4C479.9 1027.7 481.1 1030.4 482.2 1035.0C483.7 1041.3 483.6 1057.3 485.9 1058.0C487.0 1058.4 488.6 1055.5 490.0 1054.0C491.5 1052.3 493.1 1050.9 494.6 1048.1C497.3 1042.8 499.6 1031.0 502.0 1023.4C504.1 1016.8 506.2 1011.1 508.1 1004.9C509.9 998.8 511.2 992.4 513.1 986.4C514.9 980.5 517.2 974.3 519.2 969.1C520.9 964.7 521.5 959.7 524.2 957.0C526.6 954.6 530.7 954.4 534.0 953.1C537.3 951.8 540.3 950.8 543.9 949.4C548.4 947.6 553.6 945.8 558.7 943.2C564.6 940.2 571.5 934.9 577.2 932.1C581.7 929.9 585.2 928.8 589.6 927.1C594.6 925.1 601.0 922.2 605.6 921.0C608.9 920.1 611.2 920.3 614.2 919.7C617.7 919.1 622.3 916.9 625.3 917.3C627.6 917.6 629.4 918.6 631.0 920.0C632.8 921.7 633.6 924.3 635.2 927.1C637.3 930.9 640.5 936.2 642.6 940.7C644.6 944.9 645.5 949.2 647.6 953.1C649.7 957.0 652.7 960.1 655.0 964.2C657.7 969.0 660.2 976.5 662.4 980.2C663.7 982.4 664.6 984.0 666.0 985.0C667.1 985.8 668.2 986.5 669.8 986.4C672.8 986.2 677.5 982.0 682.1 980.2C687.4 978.1 695.3 977.5 700.0 975.0C703.6 973.1 706.1 970.9 708.7 968.0C711.8 964.6 713.9 959.1 716.8 955.3C719.4 951.8 722.0 948.8 725.0 946.0C728.1 943.2 731.6 939.3 735.2 938.5C738.6 937.7 742.3 939.5 746.0 940.5C750.1 941.6 754.6 943.1 758.7 945.2C763.0 947.4 766.9 950.5 771.0 953.5C775.3 956.6 779.7 960.3 783.8 963.7C787.8 967.0 791.9 969.4 795.5 973.7C799.9 979.0 803.6 987.2 807.3 993.8C810.8 1000.1 814.1 1005.8 817.3 1012.3C820.8 1019.2 823.9 1026.6 827.4 1034.1C831.2 1042.2 835.5 1051.5 839.1 1059.2C842.1 1065.8 845.1 1071.0 847.5 1077.6C850.2 1084.9 851.3 1093.7 854.2 1101.1C856.9 1108.2 861.3 1114.9 864.2 1121.2C866.8 1126.7 869.2 1132.6 871.0 1137.0C872.3 1140.1 873.1 1144.9 874.3 1145.0C875.4 1145.1 876.6 1140.6 878.0 1138.0C879.8 1134.6 882.2 1130.7 884.3 1126.2C887.0 1120.4 889.9 1113.0 892.7 1106.1C895.6 1099.0 897.9 1091.1 901.1 1084.3C904.1 1077.9 907.6 1069.9 911.2 1066.5C913.4 1064.4 914.9 1064.0 917.9 1063.0C923.0 1061.3 932.6 1058.9 940.0 1059.2C947.6 1059.5 955.8 1062.2 962.8 1065.0C969.5 1067.6 975.3 1071.2 981.3 1075.2C987.6 1079.4 994.0 1084.4 999.8 1089.6C1005.6 1094.7 1011.5 1100.0 1016.3 1106.1C1021.1 1112.3 1025.1 1119.9 1028.6 1126.7C1031.8 1132.9 1034.1 1139.0 1036.8 1145.2C1039.6 1151.4 1042.1 1157.4 1045.1 1163.7C1048.3 1170.4 1051.8 1177.6 1055.3 1184.2C1058.7 1190.6 1061.9 1197.3 1065.6 1202.7C1068.8 1207.4 1073.5 1210.7 1075.9 1215.1C1078.1 1219.2 1078.5 1227.8 1080.0 1228.0C1081.0 1228.1 1081.8 1225.6 1083.1 1223.4C1086.0 1218.2 1091.9 1205.1 1095.5 1196.7C1098.6 1189.4 1100.9 1182.8 1103.7 1176.1C1106.4 1169.7 1109.2 1163.8 1111.9 1157.6C1114.6 1151.4 1116.0 1144.2 1120.1 1139.1C1124.2 1133.9 1130.4 1130.8 1136.6 1126.7C1143.9 1121.9 1152.5 1116.0 1161.3 1112.3C1170.3 1108.5 1181.0 1105.6 1190.1 1104.1C1198.0 1102.8 1204.6 1103.3 1212.7 1103.1C1222.2 1102.9 1233.2 1102.4 1243.5 1103.1C1253.8 1103.8 1264.2 1105.3 1274.4 1107.2C1284.7 1109.1 1295.0 1111.8 1305.2 1114.5C1315.5 1117.3 1325.8 1120.5 1336.1 1123.7C1346.4 1127.0 1357.0 1130.6 1366.9 1134.0C1376.2 1137.1 1385.0 1139.9 1393.7 1143.2C1402.1 1146.4 1410.5 1149.9 1418.3 1153.5C1425.5 1156.8 1432.0 1160.4 1438.9 1163.8C1445.8 1167.2 1452.6 1170.3 1459.5 1174.1C1466.7 1178.0 1475.6 1182.3 1481.2 1187.0C1485.6 1190.6 1487.2 1194.7 1491.3 1198.6C1496.4 1203.4 1503.6 1207.8 1509.8 1213.0C1516.6 1218.7 1523.9 1225.0 1530.4 1231.5C1536.9 1238.0 1543.5 1244.8 1548.9 1252.0C1554.1 1258.9 1558.3 1266.7 1562.5 1273.7C1566.4 1280.2 1570.6 1285.9 1573.3 1292.6C1576.0 1299.4 1577.3 1306.7 1578.7 1314.3C1580.2 1322.5 1580.9 1331.4 1582.0 1340.0" stroke="#ffff00" stroke-width="8.5" stroke-dasharray="33 11"/>
<path d="M1635.0 1340.0C1636.1 1331.4 1634.8 1322.0 1638.3 1314.3C1642.0 1306.1 1651.0 1299.2 1657.2 1292.6C1662.7 1286.7 1669.2 1280.0 1673.5 1276.4C1676.0 1274.3 1677.3 1273.6 1680.0 1272.0C1683.9 1269.7 1689.8 1267.2 1695.1 1264.5C1701.0 1261.5 1706.7 1257.2 1713.5 1254.5C1721.1 1251.5 1730.3 1249.6 1738.7 1247.8C1747.0 1246.0 1755.4 1244.7 1763.8 1243.6C1772.2 1242.5 1780.6 1241.7 1789.0 1241.1C1797.4 1240.5 1804.9 1240.4 1814.1 1240.2C1825.2 1240.0 1840.0 1240.2 1851.0 1240.2C1859.9 1240.2 1867.0 1240.2 1875.0 1240.2" stroke="#ffff00" stroke-width="8.5" stroke-dasharray="33 11"/>
</g>
<path d="M279.0 1313.2V94.0" stroke="#808080" stroke-width="5.5" fill="none"/>
<path d="M277.0 1313.2H1870.5" stroke="#4a4a4a" stroke-width="4" fill="none"/>
<path d="M277.0 94.0H1872.0" stroke="#3a3a3a" stroke-width="4" fill="none"/>
<path d="M1870.5 94.0V1313.2" stroke="#333" stroke-width="3" fill="none"/>
<path d="M279.0 1313.2v-17M279.0 94.0v17M477.9 1313.2v-17M477.9 94.0v17M676.9 1313.2v-17M676.9 94.0v17M875.8 1313.2v-17M875.8 94.0v17M1074.8 1313.2v-17M1074.8 94.0v17M1273.7 1313.2v-17M1273.7 94.0v17M1472.6 1313.2v-17M1472.6 94.0v17M1671.6 1313.2v-17M1671.6 94.0v17M1870.5 1313.2v-17M1870.5 94.0v17M279.0 94.0h17M1870.5 94.0h-17M279.0 246.4h17M1870.5 246.4h-17M279.0 398.8h17M1870.5 398.8h-17M279.0 551.2h17M1870.5 551.2h-17M279.0 703.6h17M1870.5 703.6h-17M279.0 856.0h17M1870.5 856.0h-17M279.0 1008.4h17M1870.5 1008.4h-17M279.0 1160.8h17M1870.5 1160.8h-17M279.0 1313.2h17M1870.5 1313.2h-17" stroke="#2a2a2a" stroke-width="3" fill="none"/>
<g font-family="'Liberation Sans', Arial, Helvetica, sans-serif" font-weight="bold" font-size="69.6" fill="#262626">
<text transform="translate(248.2 121.0) scale(0.93 1)" text-anchor="end">-20</text>
<text transform="translate(248.2 273.8) scale(0.93 1)" text-anchor="end">-40</text>
<text transform="translate(248.2 426.6) scale(0.93 1)" text-anchor="end">-60</text>
<text transform="translate(248.2 579.3) scale(0.93 1)" text-anchor="end">-80</text>
<text transform="translate(245.4 732.1) scale(0.93 1)" text-anchor="end">-100</text>
<text transform="translate(245.4 884.9) scale(0.93 1)" text-anchor="end">-120</text>
<text transform="translate(245.4 1037.7) scale(0.93 1)" text-anchor="end">-140</text>
<text transform="translate(245.4 1190.5) scale(0.93 1)" text-anchor="end">-160</text>
<text transform="translate(245.4 1343.2) scale(0.93 1)" text-anchor="end">-180</text>
<text transform="translate(277.4 1412.3) scale(0.935 1)" text-anchor="middle">0</text>
<text transform="translate(473.1 1412.3) scale(0.935 1)" text-anchor="middle">0.02</text>
<text transform="translate(672.5 1412.3) scale(0.935 1)" text-anchor="middle">0.04</text>
<text transform="translate(871.3 1412.3) scale(0.935 1)" text-anchor="middle">0.06</text>
<text transform="translate(1070.9 1412.3) scale(0.935 1)" text-anchor="middle">0.08</text>
<text transform="translate(1267.6 1412.3) scale(0.935 1)" text-anchor="middle">0.1</text>
<text transform="translate(1469.0 1412.3) scale(0.935 1)" text-anchor="middle">0.12</text>
<text transform="translate(1668.2 1412.3) scale(0.935 1)" text-anchor="middle">0.14</text>
<text transform="translate(1867.4 1412.3) scale(0.935 1)" text-anchor="middle">0.16</text>
</g>
<text transform="translate(1070.9 1512.4) scale(0.945 1)" text-anchor="middle" font-family="'Liberation Sans', Arial, Helvetica, sans-serif" font-weight="bold" font-size="68.7" fill="#262626">Time (s)</text>
<text transform="translate(83 702.3) rotate(-90) scale(1.038 1)" text-anchor="middle" font-family="'Liberation Sans', Arial, Helvetica, sans-serif" font-weight="bold" font-size="65.2" fill="#262626">Relative reflection error (dB)</text>
<rect x="1079.5" y="40.6" width="629" height="580.4" fill="#fff" stroke="#222" stroke-width="2.8"/>
<text transform="translate(1212.5 110.0) scale(1.03 1)" font-family="'Liberation Sans', Arial, Helvetica, sans-serif" font-weight="bold" font-size="58" fill="#000">DZT-PML</text>
<text transform="translate(1212.5 191.1) scale(1.03 1)" font-family="'Liberation Sans', Arial, Helvetica, sans-serif" font-weight="bold" font-size="58" fill="#000">ME-PML</text>
<text transform="translate(1212.5 272.2) scale(1.03 1)" font-family="'Liberation Sans', Arial, Helvetica, sans-serif" font-weight="bold" font-size="58" fill="#000">BZT-SO-PML</text>
<text transform="translate(1212.5 353.2) scale(1.03 1)" font-family="'Liberation Sans', Arial, Helvetica, sans-serif" font-weight="bold" font-size="58" fill="#000">MZT-SO-PML</text>
<text transform="translate(1212.5 434.3) scale(1.03 1)" font-family="'Liberation Sans', Arial, Helvetica, sans-serif" font-weight="bold" font-size="58" fill="#000">BZT-ME-SO-PML</text>
<text transform="translate(1212.5 515.4) scale(1.03 1)" font-family="'Liberation Sans', Arial, Helvetica, sans-serif" font-weight="bold" font-size="58" fill="#000">MZT-ME-SO-PML</text>
<text transform="translate(1212.5 596.5) scale(1.03 1)" font-family="'Liberation Sans', Arial, Helvetica, sans-serif" font-weight="bold" font-size="58" fill="#000">DZT-ME-SO-PML</text>
<path d="M1093.4 87.5H1123.2M1139.6 87.5H1170.5M1187 87.5H1204.4" stroke="#111" stroke-width="3"/>
<path d="M1095.1 168.6H1116.9M1128 168.6H1131M1141.9 168.6H1164M1175.2 168.6H1178M1189.1 168.6H1203" stroke="#0000ff" stroke-width="3.6"/>
<g fill="#ff00ff"><rect x="1094.6" y="247.7" width="3.2" height="4"/><rect x="1105.8" y="247.7" width="3.2" height="4"/><rect x="1116.7" y="247.7" width="3.2" height="4"/><rect x="1129.0" y="247.7" width="3.2" height="4"/><rect x="1163.9" y="247.7" width="3.2" height="4"/><rect x="1176.3" y="247.7" width="3.2" height="4"/><rect x="1188.3" y="247.7" width="3.2" height="4"/><rect x="1199.9" y="247.7" width="3.2" height="4"/><ellipse cx="1148.9" cy="250.0" rx="6.5" ry="4.6"/></g>
<path d="M1095 330.79999999999995H1203.5" stroke="#00ff00" stroke-width="4"/>
<path d="M1095 411.9H1117M1124.9 411.9H1133.8M1142 411.9H1164M1172 411.9H1181M1189 411.9H1203" stroke="#ff0000" stroke-width="5.5"/>
<path d="M1095 493.0H1117M1124.9 493.0H1133.8M1142 493.0H1164M1172 493.0H1181M1189 493.0H1203" stroke="#00ffff" stroke-width="7"/>
<path d="M1095 574.0999999999999H1128M1139.2 574.0999999999999H1155.8M1166.7 574.0999999999999H1199.9" stroke="#ffff00" stroke-width="9"/>
</svg>
</body></html>
